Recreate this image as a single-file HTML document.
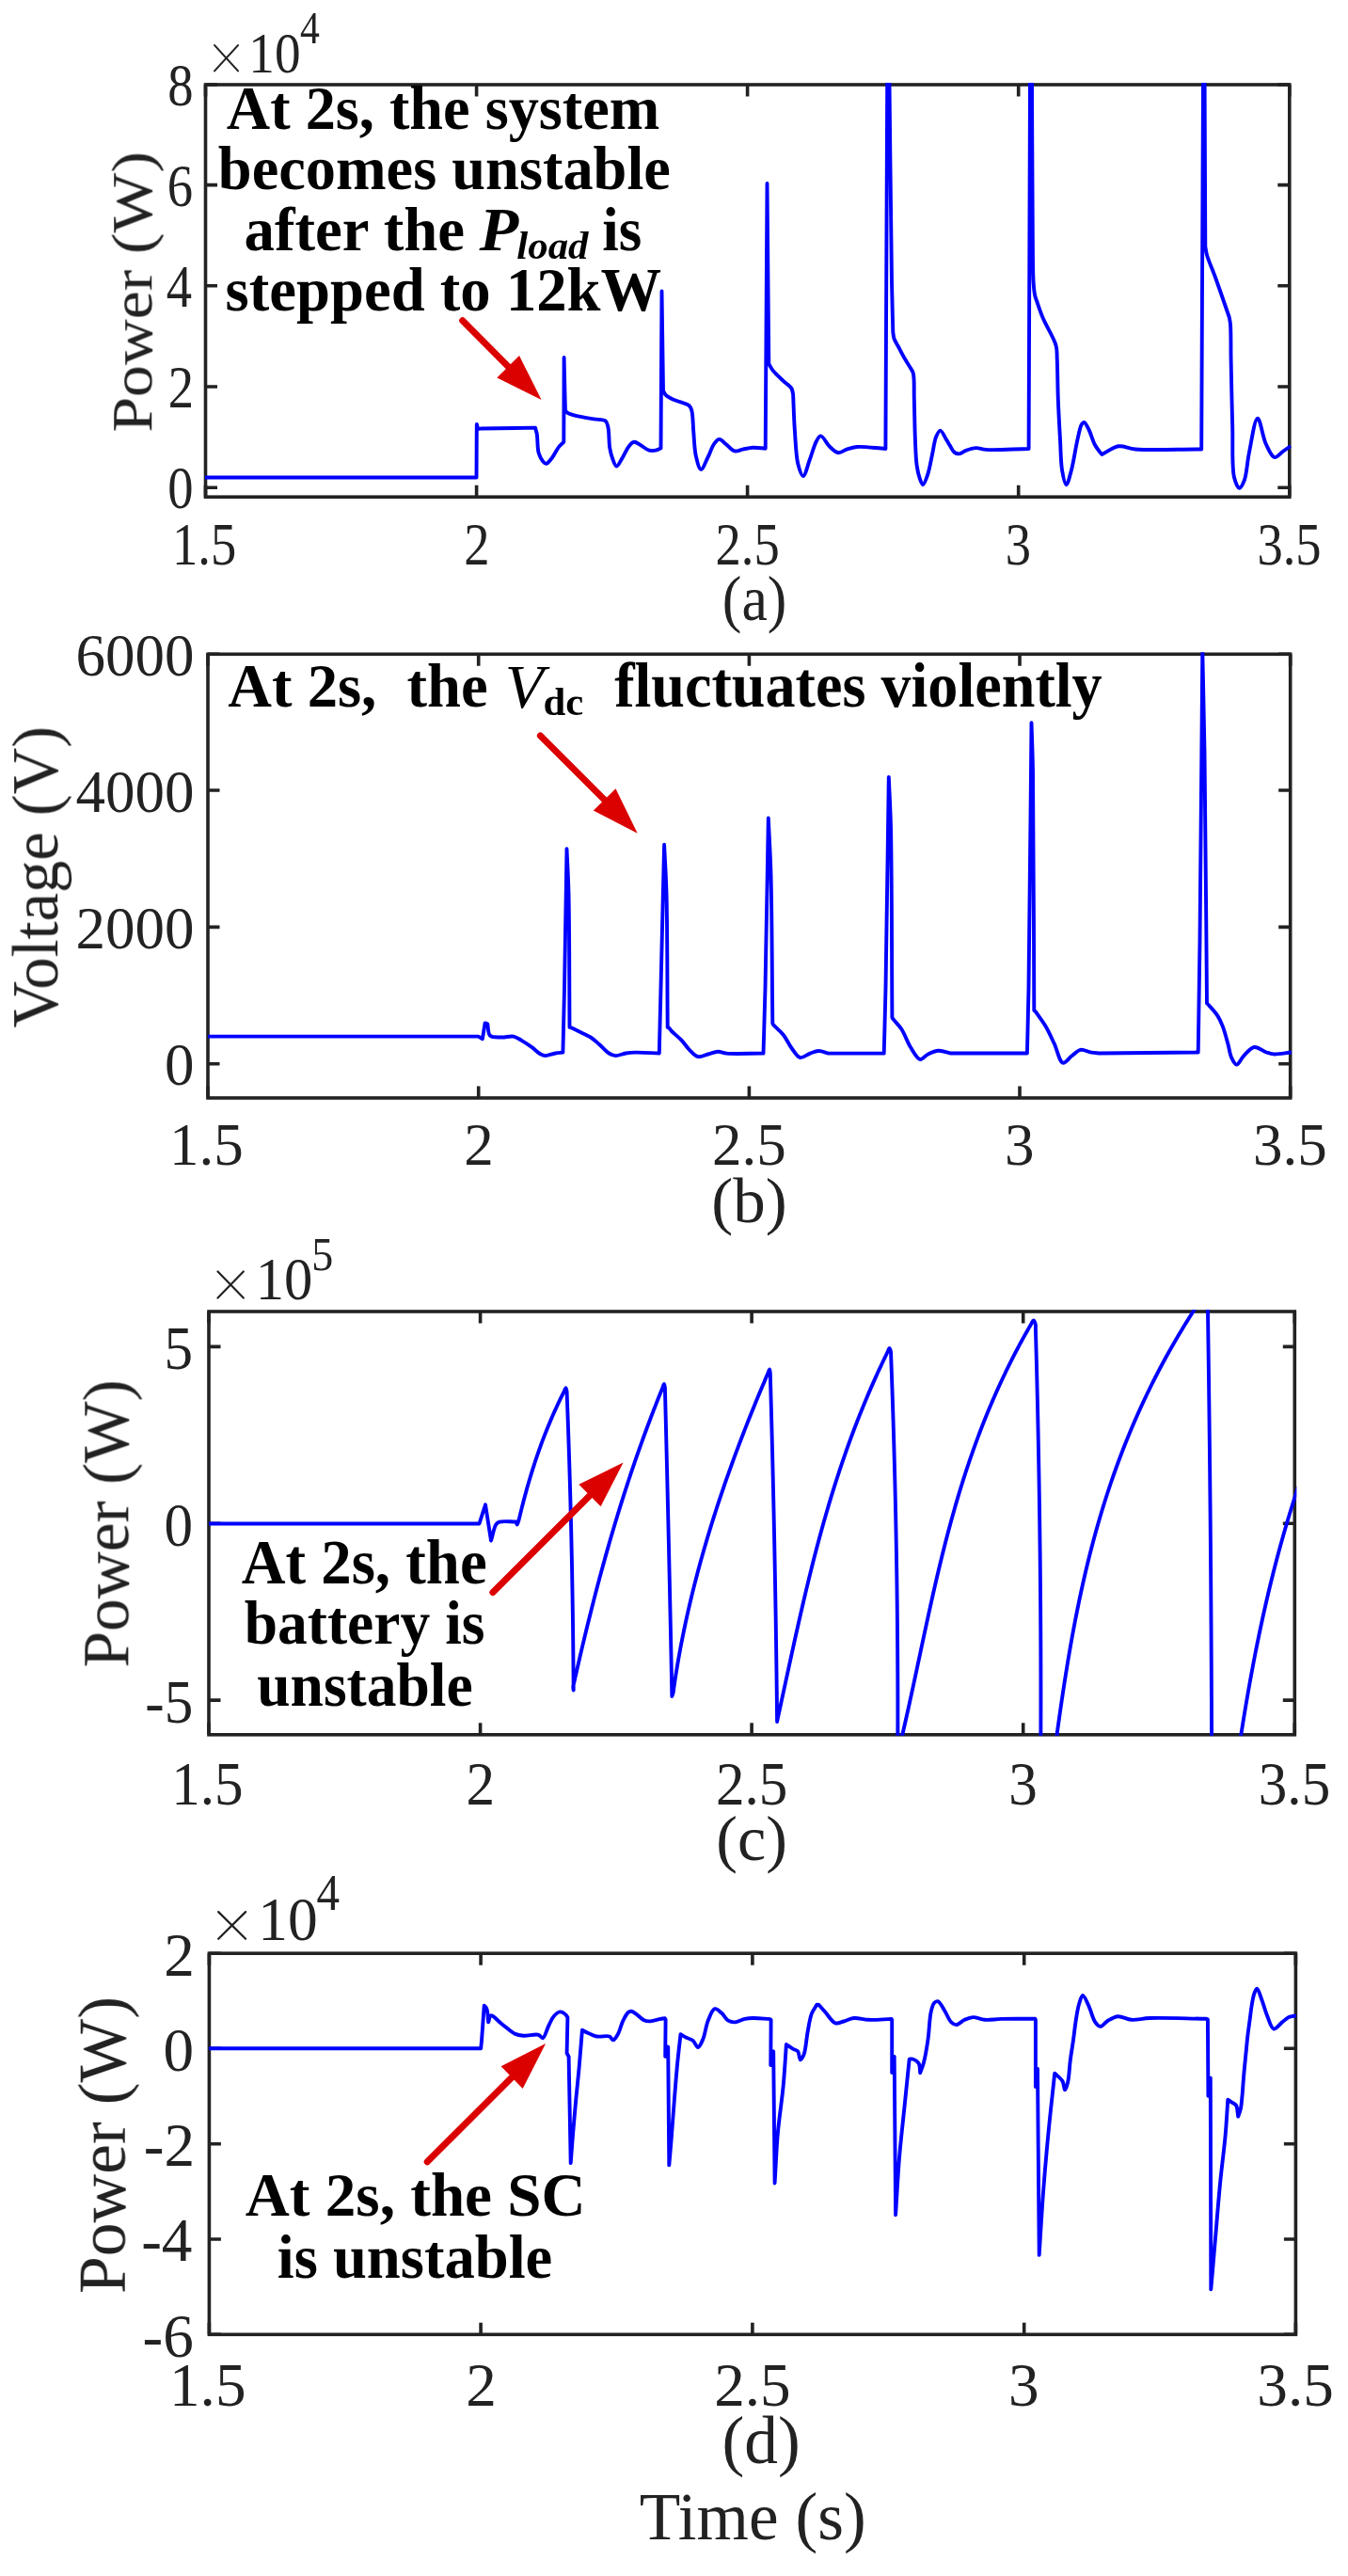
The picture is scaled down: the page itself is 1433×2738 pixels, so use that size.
<!DOCTYPE html><html><head><meta charset="utf-8"><style>html,body{margin:0;padding:0;background:#fff;}svg{display:block}text{font-family:"Liberation Serif",serif;} svg{-webkit-font-smoothing:antialiased;}</style></head><body>
<svg xmlns="http://www.w3.org/2000/svg" width="1433" height="2738" viewBox="0 0 1433 2738">
<rect width="1433" height="2738" fill="#fff"/>
<defs>
<clipPath id="clipa"><rect x="216.5" y="88.0" width="1156.3" height="441.2"/></clipPath>
<clipPath id="clipb"><rect x="219.0" y="693.3" width="1154.7" height="474.7"/></clipPath>
<clipPath id="clipc"><rect x="220.0" y="1392.0" width="1158.3" height="452.8"/></clipPath>
<clipPath id="clipd"><rect x="220.4" y="2074.2" width="1159.0" height="408.1"/></clipPath>
</defs>
<rect x="218.5" y="90.0" width="1152.3" height="438.2" fill="none" stroke="#222222" stroke-width="3.6"/>
<path d="M218.5 528.2V515.7M218.5 90.0V102.5M506.6 528.2V515.7M506.6 90.0V102.5M794.6 528.2V515.7M794.6 90.0V102.5M1082.7 528.2V515.7M1082.7 90.0V102.5M1370.8 528.2V515.7M1370.8 90.0V102.5M218.5 518.3H231.0M1370.8 518.3H1358.3M218.5 411.0H231.0M1370.8 411.0H1358.3M218.5 303.8H231.0M1370.8 303.8H1358.3M218.5 196.6H231.0M1370.8 196.6H1358.3M218.5 90.0H231.0M1370.8 90.0H1358.3" stroke="#222222" stroke-width="3.6" fill="none"/>
<rect x="221.0" y="695.3" width="1150.7" height="471.7" fill="none" stroke="#222222" stroke-width="3.6"/>
<path d="M221.0 1167.0V1154.5M221.0 695.3V707.8M508.7 1167.0V1154.5M508.7 695.3V707.8M796.4 1167.0V1154.5M796.4 695.3V707.8M1084.0 1167.0V1154.5M1084.0 695.3V707.8M1371.7 1167.0V1154.5M1371.7 695.3V707.8M221.0 1130.8H233.5M1371.7 1130.8H1359.2M221.0 985.4H233.5M1371.7 985.4H1359.2M221.0 840.0H233.5M1371.7 840.0H1359.2M221.0 695.3H233.5M1371.7 695.3H1359.2" stroke="#222222" stroke-width="3.6" fill="none"/>
<rect x="222.0" y="1394.0" width="1154.3" height="449.8" fill="none" stroke="#222222" stroke-width="3.6"/>
<path d="M222.0 1843.8V1831.3M222.0 1394.0V1406.5M510.6 1843.8V1831.3M510.6 1394.0V1406.5M799.1 1843.8V1831.3M799.1 1394.0V1406.5M1087.7 1843.8V1831.3M1087.7 1394.0V1406.5M1376.3 1843.8V1831.3M1376.3 1394.0V1406.5M222.0 1807.1H234.5M1376.3 1807.1H1363.8M222.0 1619.3H234.5M1376.3 1619.3H1363.8M222.0 1431.4H234.5M1376.3 1431.4H1363.8" stroke="#222222" stroke-width="3.6" fill="none"/>
<rect x="222.4" y="2076.2" width="1155.0" height="405.1" fill="none" stroke="#222222" stroke-width="3.6"/>
<path d="M222.4 2481.3V2468.8M222.4 2076.2V2088.7M511.1 2481.3V2468.8M511.1 2076.2V2088.7M799.9 2481.3V2468.8M799.9 2076.2V2088.7M1088.7 2481.3V2468.8M1088.7 2076.2V2088.7M1377.4 2481.3V2468.8M1377.4 2076.2V2088.7M222.4 2481.3H234.9M1377.4 2481.3H1364.9M222.4 2380.0H234.9M1377.4 2380.0H1364.9M222.4 2278.7H234.9M1377.4 2278.7H1364.9M222.4 2177.3H234.9M1377.4 2177.3H1364.9M222.4 2076.2H234.9M1377.4 2076.2H1364.9" stroke="#222222" stroke-width="3.6" fill="none"/>
<path d="M218.00 507.50L506.50 507.50L506.80 451.00C507.37 452.50 507.50 454.81 508.50 455.50C509.35 456.09 510.13 455.51 512.00 455.50C519.55 455.44 550.00 454.90 569.00 454.60C569.60 456.97 570.29 458.72 570.80 461.70C571.64 466.59 571.14 476.14 572.60 481.30C573.63 484.96 575.34 488.21 577.00 490.20C578.11 491.54 579.28 492.99 580.60 492.90C582.44 492.77 584.80 489.23 586.80 486.70C589.30 483.55 591.61 478.12 594.00 475.10C595.77 472.87 597.53 471.57 599.30 469.80L599.60 380.00C599.90 393.33 600.23 409.51 600.50 420.00C600.68 426.80 600.83 431.20 601.00 436.80C602.20 437.70 603.05 438.71 604.60 439.50C606.83 440.63 610.00 441.36 613.50 442.20C618.39 443.38 625.89 444.46 631.30 445.40C635.83 446.19 641.33 445.47 643.80 447.50C645.71 449.07 645.81 451.53 646.50 454.60C647.66 459.76 647.23 470.12 648.20 476.00C648.89 480.21 649.65 483.36 650.90 486.70C652.09 489.87 653.66 495.48 655.40 495.60C657.21 495.73 659.54 489.97 661.60 486.70C663.97 482.94 666.22 477.16 668.70 474.20C670.41 472.15 672.01 470.04 674.00 469.80C676.14 469.54 678.71 471.94 681.20 473.30C684.02 474.85 687.10 477.88 690.00 478.70C692.42 479.38 695.02 479.13 697.20 478.70C699.14 478.31 700.73 477.23 702.50 476.50L703.50 309.40L705.00 415.30C705.93 416.80 706.37 418.40 707.80 419.80C709.80 421.76 713.22 423.40 716.70 425.10C721.18 427.28 729.76 428.63 732.70 431.30C734.44 432.89 734.70 434.22 735.40 436.70C736.71 441.38 736.52 450.50 737.20 458.00C737.96 466.40 738.07 477.27 739.80 484.70C741.11 490.31 743.07 498.83 745.20 499.00C747.26 499.16 750.02 490.91 752.30 486.50C754.76 481.75 756.79 474.78 759.40 471.40C761.10 469.20 762.86 466.94 764.80 466.90C766.99 466.85 769.41 470.36 771.90 472.30C774.71 474.49 777.65 478.64 780.80 479.40C783.62 480.08 786.59 478.18 789.70 477.60C793.10 476.97 796.63 475.99 800.40 475.80C804.58 475.59 809.27 476.40 813.70 476.70L815.50 195.00L817.30 386.80C818.77 389.17 819.73 391.41 821.70 393.90C824.35 397.25 828.96 401.33 832.40 404.60C835.46 407.50 839.57 409.83 841.30 412.60C842.58 414.65 842.50 416.80 843.10 418.90C843.70 431.93 843.98 445.28 844.90 458.00C845.78 470.16 846.15 484.90 848.40 493.60C849.79 498.97 851.91 506.13 853.80 506.10C856.04 506.07 858.58 494.40 860.90 488.30C863.32 481.94 865.49 473.03 868.00 468.70C869.45 466.20 870.71 463.40 872.50 463.40C875.14 463.40 878.90 471.90 882.30 475.00C885.17 477.62 888.14 480.86 891.20 481.20C894.08 481.52 896.96 478.61 900.10 477.60C903.47 476.52 906.28 475.39 910.80 475.00C918.34 474.35 931.20 476.33 941.40 477.00L943.20 88.00L945.50 88.00C946.33 158.67 947.14 252.89 948.00 300.00C948.43 323.56 948.87 335.33 949.30 353.00C949.70 355.33 949.69 357.62 950.50 360.00C951.44 362.77 953.33 365.37 955.00 368.50C957.07 372.38 959.70 377.50 962.00 381.50C964.03 385.03 966.42 388.49 968.00 391.30C969.15 393.34 970.12 394.10 970.80 396.70C972.25 402.20 971.49 413.77 971.80 423.90C972.20 436.70 972.34 454.60 972.90 467.40C973.34 477.53 973.51 487.05 974.60 494.60C975.39 500.10 976.45 504.96 977.80 508.70C978.76 511.35 979.90 515.23 981.10 515.20C982.71 515.16 984.98 507.85 986.50 503.30C988.39 497.66 989.45 490.24 990.90 483.70C992.35 477.17 993.21 468.75 995.20 464.10C996.45 461.19 998.00 457.59 999.60 457.60C1001.56 457.61 1004.24 464.45 1006.10 467.40C1007.60 469.77 1008.64 471.73 1010.00 473.90C1011.40 476.13 1012.58 479.19 1014.40 480.60C1015.92 481.78 1017.83 482.53 1019.70 482.40C1021.93 482.24 1024.13 479.80 1026.80 478.80C1029.94 477.62 1033.92 476.24 1037.50 476.10C1041.05 475.96 1043.38 477.55 1048.20 477.90C1058.07 478.63 1078.47 477.30 1093.60 477.00L1095.00 88.00L1097.00 88.00C1097.27 142.00 1097.40 211.43 1097.80 250.00C1098.02 271.43 1097.85 288.48 1098.60 300.00C1099.00 306.12 1099.36 310.17 1100.20 314.00C1100.81 316.77 1101.52 318.16 1102.50 321.00C1104.04 325.46 1106.03 331.71 1108.70 338.10C1112.26 346.63 1120.45 359.43 1122.60 367.40C1123.96 372.46 1123.39 374.79 1123.70 380.40C1124.26 390.64 1124.25 409.40 1124.80 423.90C1125.35 438.40 1126.23 453.95 1127.00 467.40C1127.67 479.05 1127.57 491.25 1129.10 500.00C1130.16 506.09 1131.88 515.15 1133.50 515.20C1135.14 515.25 1137.22 506.09 1138.90 500.00C1141.31 491.25 1143.30 476.37 1145.40 467.40C1146.90 461.01 1147.98 453.91 1149.80 451.10C1150.63 449.82 1151.56 448.75 1152.50 448.90C1154.02 449.14 1155.80 453.40 1157.40 456.50C1159.63 460.82 1161.48 468.33 1163.90 472.80C1165.78 476.28 1167.97 478.60 1170.00 481.50L1171.40 483.00C1177.33 480.10 1183.13 475.15 1189.20 474.30C1195.00 473.49 1199.07 476.79 1207.00 477.50C1222.63 478.89 1253.80 477.50 1277.20 477.50L1279.00 88.00L1280.60 88.00L1281.30 262.00C1281.87 265.00 1281.96 267.31 1283.00 271.00C1284.77 277.31 1289.00 286.62 1292.40 296.00C1296.73 307.96 1301.93 323.33 1306.70 337.00C1307.13 339.67 1307.67 341.33 1308.00 345.00C1308.70 352.90 1308.32 368.08 1308.60 382.60C1308.98 402.60 1309.58 431.85 1310.20 453.90C1310.74 472.99 1309.28 496.19 1312.00 507.30C1313.33 512.73 1315.58 518.67 1317.50 518.80C1319.17 518.91 1321.23 514.52 1322.70 510.80C1325.33 504.13 1325.79 491.06 1328.00 480.60C1330.43 469.11 1333.72 444.81 1336.90 444.70C1339.70 444.60 1342.27 464.57 1345.80 472.00C1348.50 477.68 1351.53 485.44 1354.90 486.10C1357.58 486.62 1360.73 482.03 1363.60 480.00C1366.43 478.00 1369.20 476.00 1372.00 474.00" fill="none" stroke="#0000ff" stroke-width="3.9" stroke-linejoin="round" stroke-linecap="butt" clip-path="url(#clipa)"/>
<path d="M221.00 1101.60L508.50 1101.60L512.90 1104.30L515.60 1087.40L518.30 1088.30C519.20 1092.47 518.45 1098.44 521.00 1100.80C523.52 1103.13 529.25 1102.37 533.40 1102.50C537.55 1102.63 542.18 1100.85 545.90 1101.60C549.22 1102.27 551.75 1104.33 554.80 1106.10C558.26 1108.11 562.15 1110.76 565.50 1113.20C568.66 1115.50 571.70 1118.82 574.40 1120.30C576.30 1121.34 577.61 1122.01 579.70 1122.10C582.63 1122.23 587.07 1120.09 590.40 1119.50C593.24 1119.00 595.73 1118.90 598.40 1118.60C598.93 1095.73 599.45 1077.20 600.00 1050.00C600.80 1010.09 601.67 951.53 602.50 902.30C603.17 918.20 604.01 929.87 604.50 950.00C605.35 984.71 605.17 1044.60 605.50 1091.90L606.40 1091.90C609.37 1093.37 612.08 1094.71 615.30 1096.30C619.11 1098.19 624.10 1100.13 627.80 1102.50C631.15 1104.65 633.65 1107.06 636.70 1109.70C640.13 1112.66 643.90 1117.43 647.30 1119.50C649.77 1121.00 651.84 1121.96 654.50 1122.10C657.69 1122.27 661.62 1120.08 665.20 1119.50C668.72 1118.93 671.52 1118.70 675.80 1118.60C682.37 1118.44 692.47 1119.20 700.80 1119.50C701.37 1096.33 701.83 1077.65 702.50 1050.00C703.48 1009.08 704.90 948.53 706.10 897.80C706.90 915.20 707.91 928.33 708.50 950.00C709.47 985.71 709.30 1044.60 709.70 1091.90C710.27 1092.17 710.85 1092.25 711.40 1092.70C712.17 1093.32 712.52 1094.41 713.60 1095.60C715.75 1097.97 720.92 1101.95 724.20 1105.40C727.42 1108.79 729.97 1113.03 733.10 1116.10C735.93 1118.87 738.70 1122.49 742.00 1123.20C745.25 1123.90 749.13 1121.40 752.70 1120.50C756.27 1119.60 759.99 1117.88 763.40 1117.80C766.49 1117.73 768.25 1119.19 772.30 1119.60C780.71 1120.44 798.43 1119.60 811.50 1119.60C812.17 1096.40 812.83 1078.63 813.50 1050.00C814.58 1003.90 815.70 929.67 816.80 869.50C817.70 889.67 818.80 905.09 819.50 930.00C820.63 970.19 820.70 1035.07 821.30 1087.60L822.20 1089.40C825.73 1092.93 829.62 1096.00 832.80 1100.00C836.17 1104.24 838.53 1110.11 841.70 1114.30C844.51 1118.02 847.20 1123.35 850.60 1124.10C853.79 1124.80 857.86 1120.82 861.30 1119.60C864.37 1118.51 867.09 1117.07 870.20 1117.00C873.59 1116.92 877.33 1118.73 880.90 1119.60L939.70 1119.60C940.30 1096.40 940.90 1079.80 941.50 1050.00C942.58 996.55 943.70 900.67 944.80 826.00C945.53 844.00 946.43 856.28 947.00 880.00C948.09 925.78 947.93 1014.20 948.40 1081.30L949.30 1083.10C952.40 1086.83 955.73 1089.90 958.60 1094.30C962.03 1099.57 964.40 1107.49 967.90 1113.00C971.02 1117.91 974.68 1125.44 978.20 1126.00C980.95 1126.43 983.49 1121.92 986.60 1120.40C989.97 1118.76 993.90 1116.91 997.80 1116.70C1001.94 1116.48 1006.47 1118.57 1010.80 1119.50L1091.90 1119.50C1092.43 1096.33 1092.98 1080.96 1093.50 1050.00C1094.55 987.68 1095.50 862.20 1096.50 768.30C1097.00 785.53 1097.59 796.25 1098.00 820.00C1098.90 872.61 1098.87 989.20 1099.30 1073.80L1101.20 1075.70C1104.60 1080.67 1108.25 1085.24 1111.40 1090.60C1114.78 1096.35 1117.66 1102.82 1120.70 1109.20C1123.86 1115.84 1126.21 1128.78 1130.00 1129.70C1132.77 1130.37 1136.24 1124.64 1139.40 1122.30C1142.48 1120.02 1145.30 1116.43 1148.70 1115.80C1152.13 1115.17 1156.31 1117.98 1159.90 1118.60C1163.15 1119.16 1166.17 1119.20 1169.30 1119.50L1273.70 1118.50C1274.30 1079.00 1274.91 1048.73 1275.50 1000.00C1276.45 921.57 1277.37 795.33 1278.30 693.00C1279.03 728.67 1279.85 756.34 1280.50 800.00C1281.53 868.89 1282.17 977.60 1283.00 1066.40C1283.60 1067.00 1283.99 1067.32 1284.80 1068.20C1286.74 1070.31 1291.66 1075.51 1294.20 1079.40C1296.54 1083.00 1298.02 1086.32 1299.70 1090.60C1301.80 1095.94 1303.67 1103.33 1305.30 1109.20C1306.75 1114.43 1307.22 1120.12 1309.10 1124.10C1310.56 1127.20 1312.59 1131.55 1314.60 1131.60C1316.88 1131.65 1319.18 1125.26 1322.10 1122.30C1325.32 1119.03 1329.23 1113.60 1333.30 1113.00C1337.31 1112.41 1342.52 1117.23 1346.30 1118.50C1349.10 1119.44 1350.70 1120.17 1353.80 1120.40C1358.70 1120.77 1366.60 1119.13 1373.00 1118.50" fill="none" stroke="#0000ff" stroke-width="3.9" stroke-linejoin="round" stroke-linecap="butt" clip-path="url(#clipb)"/>
<path d="M222.00 1619.50L509.50 1619.50L516.00 1599.30L522.00 1637.50C523.77 1631.80 525.12 1623.50 527.30 1620.40C528.40 1618.85 529.10 1618.31 530.90 1617.70C534.49 1616.48 542.83 1617.57 548.80 1617.50C549.13 1618.50 549.40 1620.50 549.80 1620.50C550.43 1620.50 551.60 1615.13 552.20 1613.00C552.63 1611.45 552.84 1610.30 553.17 1608.95C553.50 1607.60 553.83 1606.24 554.17 1604.89C554.51 1603.54 554.85 1602.19 555.19 1600.84C555.53 1599.49 555.88 1598.14 556.23 1596.79C556.58 1595.44 556.93 1594.09 557.29 1592.74C557.65 1591.38 558.01 1590.03 558.38 1588.68C558.74 1587.33 559.11 1585.98 559.49 1584.63C559.86 1583.28 560.24 1581.93 560.62 1580.58C561.01 1579.22 561.39 1577.87 561.78 1576.52C562.18 1575.17 562.57 1573.82 562.97 1572.47C563.37 1571.12 563.78 1569.77 564.19 1568.42C564.60 1567.07 565.01 1565.72 565.43 1564.36C565.85 1563.01 566.28 1561.66 566.70 1560.31C567.13 1558.96 567.57 1557.61 568.01 1556.26C568.45 1554.91 568.89 1553.56 569.34 1552.21C569.79 1550.85 570.24 1549.50 570.70 1548.15C571.17 1546.80 571.63 1545.45 572.10 1544.10C572.57 1542.75 573.05 1541.40 573.53 1540.05C574.01 1538.70 574.50 1537.34 574.99 1535.99C575.49 1534.64 575.99 1533.29 576.49 1531.94C577.00 1530.59 577.51 1529.24 578.03 1527.89C578.54 1526.54 579.07 1525.19 579.60 1523.84C580.13 1522.48 580.66 1521.13 581.20 1519.78C581.75 1518.43 582.29 1517.08 582.85 1515.73C583.40 1514.38 583.96 1513.03 584.53 1511.68C585.10 1510.32 585.67 1508.97 586.25 1507.62C586.84 1506.27 587.42 1504.92 588.02 1503.57C588.61 1502.22 589.21 1500.87 589.82 1499.52C590.43 1498.17 591.04 1496.81 591.67 1495.46C592.29 1494.11 592.92 1492.76 593.55 1491.41C594.19 1490.06 594.84 1488.71 595.49 1487.36C596.14 1486.01 596.80 1484.66 597.46 1483.31C598.13 1481.95 598.80 1480.60 599.48 1479.25C600.16 1477.90 601.03 1475.14 601.55 1475.20C602.04 1475.26 602.37 1477.87 602.57 1479.22C602.76 1480.55 602.67 1481.90 602.72 1483.24C602.77 1484.57 602.83 1485.91 602.88 1487.25C602.93 1488.59 602.98 1489.93 603.03 1491.27C603.08 1492.61 603.13 1493.95 603.18 1495.29C603.23 1496.63 603.28 1497.97 603.33 1499.31C603.38 1500.64 603.43 1501.98 603.48 1503.32C603.53 1504.66 603.58 1506.00 603.62 1507.34C603.67 1508.68 603.72 1510.02 603.77 1511.36C603.82 1512.70 603.86 1514.04 603.91 1515.38C603.96 1516.71 604.01 1518.05 604.05 1519.39C604.10 1520.73 604.14 1522.07 604.19 1523.41C604.24 1524.75 604.28 1526.09 604.33 1527.43C604.37 1528.77 604.42 1530.11 604.46 1531.44C604.51 1532.78 604.55 1534.12 604.60 1535.46C604.64 1536.80 604.69 1538.14 604.73 1539.48C604.77 1540.82 604.82 1542.16 604.86 1543.50C604.90 1544.84 604.95 1546.18 604.99 1547.52C605.03 1548.85 605.08 1550.19 605.12 1551.53C605.16 1552.87 605.20 1554.21 605.24 1555.55C605.28 1556.89 605.33 1558.23 605.37 1559.57C605.41 1560.91 605.45 1562.25 605.49 1563.59C605.53 1564.92 605.57 1566.26 605.61 1567.60C605.65 1568.94 605.69 1570.28 605.73 1571.62C605.77 1572.96 605.81 1574.30 605.85 1575.64C605.88 1576.98 605.92 1578.32 605.96 1579.65C606.00 1580.99 606.04 1582.33 606.07 1583.67C606.11 1585.01 606.15 1586.35 606.19 1587.69C606.22 1589.03 606.26 1590.37 606.30 1591.71C606.33 1593.05 606.37 1594.39 606.41 1595.72C606.44 1597.06 606.48 1598.40 606.51 1599.74C606.55 1601.08 606.58 1602.42 606.62 1603.76C606.65 1605.10 606.69 1606.44 606.72 1607.78C606.76 1609.12 606.79 1610.46 606.82 1611.80C606.86 1613.13 606.89 1614.47 606.92 1615.81C606.96 1617.15 606.99 1618.49 607.02 1619.83C607.05 1621.17 607.09 1622.51 607.12 1623.85C607.15 1625.19 607.18 1626.53 607.21 1627.87C607.24 1629.20 607.28 1630.54 607.31 1631.88C607.34 1633.22 607.37 1634.56 607.40 1635.90C607.43 1637.24 607.46 1638.58 607.49 1639.92C607.52 1641.26 607.55 1642.60 607.58 1643.93C607.61 1645.27 607.63 1646.61 607.66 1647.95C607.69 1649.29 607.72 1650.63 607.75 1651.97C607.78 1653.31 607.80 1654.65 607.83 1655.99C607.86 1657.33 607.89 1658.67 607.91 1660.00C607.94 1661.34 607.97 1662.68 607.99 1664.02C608.02 1665.36 608.04 1666.70 608.07 1668.04C608.10 1669.38 608.12 1670.72 608.15 1672.06C608.17 1673.40 608.20 1674.74 608.22 1676.08C608.25 1677.41 608.27 1678.75 608.29 1680.09C608.32 1681.43 608.34 1682.77 608.37 1684.11C608.39 1685.45 608.41 1686.79 608.44 1688.13C608.46 1689.47 608.48 1690.81 608.50 1692.14C608.53 1693.48 608.55 1694.82 608.57 1696.16C608.59 1697.50 608.61 1698.84 608.63 1700.18C608.66 1701.52 608.68 1702.86 608.70 1704.20C608.72 1705.54 608.74 1706.88 608.76 1708.21C608.78 1709.55 608.80 1710.89 608.82 1712.23C608.84 1713.57 608.86 1714.91 608.88 1716.25C608.89 1717.59 608.91 1718.93 608.93 1720.27C608.95 1721.61 608.97 1722.95 608.99 1724.28C609.00 1725.62 609.02 1726.96 609.04 1728.30C609.06 1729.64 609.07 1730.98 609.09 1732.32C609.11 1733.66 609.12 1735.00 609.14 1736.34C609.15 1737.68 609.17 1739.02 609.19 1740.36C609.20 1741.69 609.22 1743.03 609.23 1744.37C609.25 1745.71 609.26 1747.05 609.28 1748.39C609.29 1749.73 609.30 1751.07 609.32 1752.41C609.33 1753.75 609.35 1755.09 609.36 1756.42C609.37 1757.76 609.39 1759.10 609.40 1760.44C609.41 1761.78 609.42 1763.12 609.44 1764.46C609.45 1765.80 609.46 1767.14 609.47 1768.48C609.48 1769.82 609.49 1771.16 609.50 1772.49C609.52 1773.83 609.53 1775.17 609.54 1776.51C609.55 1777.85 609.56 1779.19 609.57 1780.53C609.58 1781.87 609.59 1783.21 609.60 1784.55C609.61 1785.89 609.61 1787.23 609.62 1788.57C609.63 1789.90 609.64 1791.24 609.65 1792.58C609.66 1793.92 609.66 1795.26 609.67 1796.60C609.55 1795.26 609.22 1793.91 609.31 1792.58C609.39 1791.23 609.91 1789.90 610.21 1788.56C610.51 1787.22 610.81 1785.88 611.11 1784.54C611.42 1783.20 611.72 1781.86 612.02 1780.52C612.33 1779.18 612.63 1777.84 612.94 1776.50C613.25 1775.16 613.55 1773.82 613.86 1772.48C614.17 1771.14 614.48 1769.80 614.79 1768.46C615.10 1767.12 615.41 1765.78 615.72 1764.44C616.03 1763.10 616.34 1761.76 616.65 1760.42C616.97 1759.08 617.28 1757.74 617.59 1756.40C617.91 1755.06 618.22 1753.72 618.54 1752.38C618.86 1751.04 619.17 1749.70 619.49 1748.36C619.81 1747.02 620.13 1745.68 620.45 1744.34C620.77 1743.00 621.09 1741.66 621.42 1740.32C621.74 1738.98 622.06 1737.64 622.39 1736.30C622.71 1734.96 623.04 1733.62 623.36 1732.28C623.69 1730.94 624.02 1729.60 624.34 1728.26C624.67 1726.92 625.00 1725.58 625.33 1724.24C625.66 1722.90 626.00 1721.56 626.33 1720.22C626.66 1718.88 626.99 1717.54 627.33 1716.20C627.67 1714.86 628.00 1713.52 628.34 1712.19C628.68 1710.85 629.01 1709.51 629.35 1708.17C629.69 1706.83 630.03 1705.49 630.38 1704.15C630.72 1702.81 631.06 1701.47 631.41 1700.13C631.75 1698.79 632.10 1697.45 632.44 1696.11C632.79 1694.77 633.14 1693.43 633.49 1692.09C633.84 1690.75 634.19 1689.41 634.54 1688.07C634.89 1686.73 635.25 1685.39 635.60 1684.05C635.95 1682.71 636.31 1681.37 636.67 1680.03C637.02 1678.69 637.38 1677.35 637.74 1676.01C638.10 1674.67 638.46 1673.33 638.83 1671.99C639.19 1670.65 639.55 1669.31 639.92 1667.97C640.28 1666.63 640.65 1665.29 641.02 1663.95C641.39 1662.61 641.75 1661.27 642.13 1659.93C642.50 1658.59 642.87 1657.25 643.24 1655.91C643.62 1654.57 643.99 1653.23 644.37 1651.89C644.74 1650.55 645.12 1649.21 645.50 1647.87C645.88 1646.53 646.26 1645.19 646.64 1643.85C647.03 1642.51 647.41 1641.17 647.80 1639.83C648.18 1638.49 648.57 1637.15 648.96 1635.81C649.35 1634.47 649.74 1633.13 650.13 1631.79C650.52 1630.45 650.91 1629.11 651.31 1627.77C651.70 1626.43 652.10 1625.09 652.50 1623.75C652.90 1622.41 653.30 1621.07 653.70 1619.73C654.10 1618.39 654.50 1617.05 654.91 1615.71C655.31 1614.37 655.72 1613.03 656.12 1611.69C656.53 1610.35 656.94 1609.01 657.35 1607.67C657.76 1606.33 658.18 1604.99 658.59 1603.65C659.01 1602.31 659.42 1600.97 659.84 1599.63C660.26 1598.29 660.68 1596.95 661.10 1595.61C661.52 1594.27 661.95 1592.93 662.37 1591.59C662.80 1590.25 663.22 1588.91 663.65 1587.57C664.08 1586.23 664.51 1584.89 664.94 1583.55C665.38 1582.21 665.81 1580.87 666.25 1579.53C666.68 1578.19 667.12 1576.85 667.56 1575.51C668.00 1574.17 668.44 1572.83 668.88 1571.49C669.33 1570.15 669.77 1568.81 670.22 1567.47C670.67 1566.13 671.12 1564.79 671.57 1563.45C672.02 1562.11 672.47 1560.77 672.93 1559.43C673.38 1558.09 673.84 1556.75 674.30 1555.41C674.76 1554.07 675.22 1552.73 675.68 1551.40C676.14 1550.05 676.61 1548.71 677.07 1547.38C677.54 1546.04 678.01 1544.70 678.48 1543.36C678.95 1542.02 679.42 1540.68 679.90 1539.34C680.37 1538.00 680.85 1536.66 681.33 1535.32C681.81 1533.98 682.29 1532.64 682.77 1531.30C683.26 1529.96 683.74 1528.62 684.23 1527.28C684.72 1525.94 685.21 1524.60 685.70 1523.26C686.19 1521.92 686.68 1520.58 687.18 1519.24C687.68 1517.90 688.17 1516.56 688.67 1515.22C689.17 1513.88 689.68 1512.54 690.18 1511.20C690.69 1509.86 691.19 1508.52 691.70 1507.18C692.21 1505.84 692.72 1504.50 693.24 1503.16C693.75 1501.82 694.27 1500.48 694.78 1499.14C695.30 1497.80 695.82 1496.46 696.34 1495.12C696.87 1493.78 697.39 1492.44 697.92 1491.10C698.45 1489.76 698.97 1488.42 699.51 1487.08C700.04 1485.74 700.57 1484.40 701.11 1483.06C701.65 1481.72 702.18 1480.38 702.73 1479.04C703.27 1477.70 703.81 1476.36 704.36 1475.02C704.90 1473.68 705.58 1470.96 706.00 1471.00C706.41 1471.04 706.72 1473.66 706.89 1475.00C707.05 1476.33 706.96 1477.67 706.99 1479.00C707.02 1480.33 707.06 1481.67 707.09 1483.00C707.13 1484.33 707.16 1485.67 707.20 1487.00C707.23 1488.33 707.26 1489.67 707.30 1491.00C707.33 1492.33 707.37 1493.67 707.40 1495.00C707.43 1496.33 707.47 1497.67 707.50 1499.00C707.53 1500.33 707.57 1501.67 707.60 1503.00C707.64 1504.33 707.67 1505.67 707.70 1507.00C707.74 1508.33 707.77 1509.67 707.80 1511.00C707.84 1512.33 707.87 1513.67 707.90 1515.00C707.94 1516.33 707.97 1517.67 708.00 1519.00C708.04 1520.33 708.07 1521.67 708.10 1523.00C708.14 1524.33 708.17 1525.67 708.20 1527.00C708.24 1528.33 708.27 1529.67 708.30 1531.00C708.33 1532.33 708.37 1533.67 708.40 1535.00C708.43 1536.33 708.47 1537.67 708.50 1539.00C708.53 1540.33 708.56 1541.67 708.60 1543.00C708.63 1544.33 708.66 1545.67 708.70 1547.00C708.73 1548.33 708.76 1549.67 708.79 1551.00C708.83 1552.33 708.86 1553.67 708.89 1555.00C708.92 1556.33 708.96 1557.67 708.99 1559.00C709.02 1560.33 709.05 1561.67 709.08 1563.00C709.12 1564.33 709.15 1565.67 709.18 1567.00C709.21 1568.33 709.24 1569.67 709.28 1571.00C709.31 1572.33 709.34 1573.67 709.37 1575.00C709.40 1576.33 709.44 1577.67 709.47 1579.00C709.50 1580.33 709.53 1581.67 709.56 1583.00C709.59 1584.33 709.63 1585.67 709.66 1587.00C709.69 1588.33 709.72 1589.67 709.75 1591.00C709.78 1592.33 709.82 1593.67 709.85 1595.00C709.88 1596.33 709.91 1597.67 709.94 1599.00C709.97 1600.33 710.00 1601.67 710.03 1603.00C710.07 1604.33 710.10 1605.67 710.13 1607.00C710.16 1608.33 710.19 1609.67 710.22 1611.00C710.25 1612.33 710.28 1613.67 710.31 1615.00C710.35 1616.33 710.38 1617.67 710.41 1619.00C710.44 1620.33 710.47 1621.67 710.50 1623.00C710.53 1624.33 710.56 1625.67 710.59 1627.00C710.62 1628.33 710.65 1629.67 710.68 1631.00C710.71 1632.33 710.74 1633.67 710.77 1635.00C710.80 1636.33 710.83 1637.67 710.86 1639.00C710.90 1640.33 710.93 1641.67 710.96 1643.00C710.99 1644.33 711.02 1645.67 711.05 1647.00C711.08 1648.33 711.11 1649.67 711.14 1651.00C711.17 1652.33 711.20 1653.67 711.23 1655.00C711.26 1656.33 711.29 1657.67 711.32 1659.00C711.35 1660.33 711.38 1661.67 711.40 1663.00C711.43 1664.33 711.46 1665.67 711.49 1667.00C711.52 1668.33 711.55 1669.67 711.58 1671.00C711.61 1672.33 711.64 1673.67 711.67 1675.00C711.70 1676.33 711.73 1677.67 711.76 1679.00C711.79 1680.33 711.82 1681.67 711.85 1683.00C711.88 1684.33 711.90 1685.67 711.93 1687.00C711.96 1688.33 711.99 1689.67 712.02 1691.00C712.05 1692.33 712.08 1693.67 712.11 1695.00C712.14 1696.33 712.17 1697.67 712.19 1699.00C712.22 1700.33 712.25 1701.67 712.28 1703.00C712.31 1704.33 712.34 1705.67 712.37 1707.00C712.40 1708.33 712.42 1709.67 712.45 1711.00C712.48 1712.33 712.51 1713.67 712.54 1715.00C712.57 1716.33 712.59 1717.67 712.62 1719.00C712.65 1720.33 712.68 1721.67 712.71 1723.00C712.74 1724.33 712.76 1725.67 712.79 1727.00C712.82 1728.33 712.85 1729.67 712.88 1731.00C712.90 1732.33 712.93 1733.67 712.96 1735.00C712.99 1736.33 713.02 1737.67 713.04 1739.00C713.07 1740.33 713.10 1741.67 713.13 1743.00C713.15 1744.33 713.18 1745.67 713.21 1747.00C713.24 1748.33 713.26 1749.67 713.29 1751.00C713.32 1752.33 713.35 1753.67 713.37 1755.00C713.40 1756.33 713.43 1757.67 713.46 1759.00C713.48 1760.33 713.51 1761.67 713.54 1763.00C713.57 1764.33 713.59 1765.67 713.62 1767.00C713.65 1768.33 713.67 1769.67 713.70 1771.00C713.73 1772.33 713.75 1773.67 713.78 1775.00C713.81 1776.33 713.84 1777.67 713.86 1779.00C713.89 1780.33 713.92 1781.67 713.94 1783.00C713.97 1784.33 714.00 1785.67 714.02 1787.00C714.05 1788.33 714.08 1789.67 714.10 1791.00C714.13 1792.33 714.15 1793.67 714.18 1795.00C714.21 1796.33 714.23 1797.67 714.26 1799.00C714.29 1800.33 714.31 1801.67 714.34 1803.00C714.77 1801.65 715.33 1800.32 715.64 1798.96C715.95 1797.63 716.02 1796.27 716.21 1794.92C716.40 1793.57 716.60 1792.22 716.80 1790.88C716.99 1789.53 717.19 1788.18 717.40 1786.84C717.60 1785.49 717.81 1784.14 718.02 1782.80C718.23 1781.45 718.44 1780.10 718.66 1778.76C718.87 1777.41 719.09 1776.06 719.31 1774.72C719.53 1773.37 719.75 1772.02 719.98 1770.67C720.21 1769.33 720.44 1767.98 720.67 1766.63C720.90 1765.29 721.14 1763.94 721.38 1762.59C721.61 1761.25 721.86 1759.90 722.10 1758.55C722.34 1757.21 722.59 1755.86 722.84 1754.51C723.09 1753.16 723.34 1751.82 723.59 1750.47C723.85 1749.12 724.11 1747.78 724.37 1746.43C724.63 1745.08 724.89 1743.74 725.16 1742.39C725.42 1741.04 725.69 1739.70 725.96 1738.35C726.23 1737.00 726.51 1735.65 726.78 1734.31C727.06 1732.96 727.34 1731.61 727.62 1730.27C727.90 1728.92 728.19 1727.57 728.48 1726.23C728.76 1724.88 729.05 1723.53 729.35 1722.19C729.64 1720.84 729.94 1719.49 730.23 1718.15C730.53 1716.80 730.83 1715.45 731.14 1714.10C731.44 1712.76 731.75 1711.41 732.05 1710.06C732.36 1708.72 732.67 1707.37 732.99 1706.02C733.30 1704.68 733.62 1703.33 733.94 1701.98C734.26 1700.64 734.58 1699.29 734.90 1697.94C735.23 1696.59 735.56 1695.25 735.88 1693.90C736.21 1692.55 736.55 1691.21 736.88 1689.86C737.22 1688.51 737.55 1687.17 737.89 1685.82C738.23 1684.47 738.58 1683.13 738.92 1681.78C739.26 1680.43 739.61 1679.08 739.96 1677.74C740.31 1676.39 740.66 1675.04 741.02 1673.70C741.37 1672.35 741.73 1671.00 742.09 1669.66C742.45 1668.31 742.81 1666.96 743.18 1665.62C743.54 1664.27 743.91 1662.92 744.28 1661.58C744.65 1660.23 745.02 1658.88 745.40 1657.53C745.77 1656.19 746.15 1654.84 746.53 1653.49C746.91 1652.15 747.29 1650.80 747.67 1649.45C748.06 1648.11 748.45 1646.76 748.83 1645.41C749.22 1644.07 749.61 1642.72 750.01 1641.37C750.40 1640.02 750.80 1638.68 751.20 1637.33C751.60 1635.98 752.00 1634.64 752.40 1633.29C752.80 1631.94 753.21 1630.60 753.62 1629.25C754.03 1627.90 754.44 1626.56 754.85 1625.21C755.26 1623.86 755.68 1622.52 756.10 1621.17C756.51 1619.82 756.93 1618.47 757.35 1617.13C757.78 1615.78 758.20 1614.43 758.63 1613.09C759.05 1611.74 759.48 1610.39 759.91 1609.05C760.35 1607.70 760.78 1606.35 761.21 1605.01C761.65 1603.66 762.09 1602.31 762.53 1600.97C762.97 1599.62 763.41 1598.27 763.86 1596.92C764.30 1595.58 764.75 1594.23 765.20 1592.88C765.65 1591.54 766.10 1590.19 766.55 1588.84C767.00 1587.50 767.46 1586.15 767.92 1584.80C768.38 1583.46 768.84 1582.11 769.30 1580.76C769.76 1579.41 770.23 1578.07 770.69 1576.72C771.16 1575.37 771.63 1574.03 772.10 1572.68C772.57 1571.33 773.04 1569.99 773.52 1568.64C773.99 1567.29 774.47 1565.95 774.95 1564.60C775.43 1563.25 775.91 1561.90 776.39 1560.56C776.88 1559.21 777.36 1557.86 777.85 1556.52C778.34 1555.17 778.83 1553.82 779.32 1552.48C779.81 1551.13 780.31 1549.78 780.80 1548.44C781.30 1547.09 781.80 1545.74 782.30 1544.40C782.80 1543.05 783.30 1541.70 783.81 1540.35C784.31 1539.01 784.82 1537.66 785.32 1536.31C785.83 1534.97 786.34 1533.62 786.86 1532.27C787.37 1530.93 787.88 1529.58 788.40 1528.23C788.92 1526.89 789.43 1525.54 789.95 1524.19C790.47 1522.84 791.00 1521.50 791.52 1520.15C792.05 1518.80 792.57 1517.46 793.10 1516.11C793.63 1514.76 794.16 1513.42 794.69 1512.07C795.22 1510.72 795.76 1509.38 796.29 1508.03C796.83 1506.68 797.37 1505.33 797.91 1503.99C798.44 1502.64 798.99 1501.29 799.53 1499.95C800.07 1498.60 800.62 1497.25 801.17 1495.91C801.71 1494.56 802.26 1493.21 802.81 1491.87C803.36 1490.52 803.92 1489.17 804.47 1487.83C805.03 1486.48 805.58 1485.13 806.14 1483.78C806.70 1482.44 807.26 1481.09 807.82 1479.74C808.38 1478.40 808.95 1477.05 809.51 1475.70C810.08 1474.36 810.65 1473.01 811.22 1471.66C811.79 1470.32 812.36 1468.97 812.93 1467.62C813.50 1466.27 814.08 1464.93 814.65 1463.58C815.23 1462.23 815.81 1460.89 816.39 1459.54C816.97 1458.19 817.73 1455.45 818.13 1455.50C818.52 1455.55 818.66 1458.18 818.78 1459.53C818.91 1460.87 818.86 1462.21 818.90 1463.55C818.94 1464.90 818.98 1466.24 819.02 1467.58C819.06 1468.92 819.09 1470.27 819.13 1471.61C819.17 1472.95 819.21 1474.29 819.25 1475.63C819.28 1476.98 819.32 1478.32 819.36 1479.66C819.40 1481.00 819.44 1482.35 819.47 1483.69C819.51 1485.03 819.55 1486.37 819.59 1487.72C819.62 1489.06 819.66 1490.40 819.70 1491.74C819.73 1493.08 819.77 1494.43 819.81 1495.77C819.84 1497.11 819.88 1498.45 819.92 1499.80C819.95 1501.14 819.99 1502.48 820.03 1503.82C820.06 1505.16 820.10 1506.51 820.13 1507.85C820.17 1509.19 820.21 1510.53 820.24 1511.88C820.28 1513.22 820.31 1514.56 820.35 1515.90C820.38 1517.25 820.42 1518.59 820.45 1519.93C820.49 1521.27 820.52 1522.61 820.56 1523.96C820.59 1525.30 820.63 1526.64 820.66 1527.98C820.70 1529.33 820.73 1530.67 820.77 1532.01C820.80 1533.35 820.83 1534.70 820.87 1536.04C820.90 1537.38 820.94 1538.72 820.97 1540.06C821.00 1541.41 821.04 1542.75 821.07 1544.09C821.10 1545.43 821.14 1546.78 821.17 1548.12C821.20 1549.46 821.24 1550.80 821.27 1552.15C821.30 1553.49 821.33 1554.83 821.37 1556.17C821.40 1557.51 821.43 1558.86 821.46 1560.20C821.50 1561.54 821.53 1562.88 821.56 1564.23C821.59 1565.57 821.62 1566.91 821.66 1568.25C821.69 1569.59 821.72 1570.94 821.75 1572.28C821.78 1573.62 821.81 1574.96 821.84 1576.31C821.88 1577.65 821.91 1578.99 821.94 1580.33C821.97 1581.68 822.00 1583.02 822.03 1584.36C822.06 1585.70 822.09 1587.04 822.12 1588.39C822.15 1589.73 822.18 1591.07 822.21 1592.41C822.24 1593.76 822.27 1595.10 822.30 1596.44C822.33 1597.78 822.36 1599.13 822.39 1600.47C822.42 1601.81 822.45 1603.15 822.48 1604.49C822.51 1605.84 822.54 1607.18 822.57 1608.52C822.60 1609.86 822.62 1611.21 822.65 1612.55C822.68 1613.89 822.71 1615.23 822.74 1616.58C822.77 1617.92 822.80 1619.26 822.82 1620.60C822.85 1621.94 822.88 1623.29 822.91 1624.63C822.94 1625.97 822.96 1627.31 822.99 1628.66C823.02 1630.00 823.05 1631.34 823.07 1632.68C823.10 1634.03 823.13 1635.37 823.16 1636.71C823.18 1638.05 823.21 1639.39 823.24 1640.74C823.26 1642.08 823.29 1643.42 823.32 1644.76C823.34 1646.11 823.37 1647.45 823.39 1648.79C823.42 1650.13 823.45 1651.47 823.47 1652.82C823.50 1654.16 823.52 1655.50 823.55 1656.84C823.58 1658.19 823.60 1659.53 823.63 1660.87C823.65 1662.21 823.68 1663.56 823.70 1664.90C823.73 1666.24 823.75 1667.58 823.78 1668.92C823.80 1670.27 823.83 1671.61 823.85 1672.95C823.88 1674.29 823.90 1675.64 823.93 1676.98C823.95 1678.32 823.97 1679.66 824.00 1681.01C824.02 1682.35 824.05 1683.69 824.07 1685.03C824.09 1686.37 824.12 1687.72 824.14 1689.06C824.16 1690.40 824.19 1691.74 824.21 1693.09C824.23 1694.43 824.26 1695.77 824.28 1697.11C824.30 1698.46 824.32 1699.80 824.35 1701.14C824.37 1702.48 824.39 1703.82 824.41 1705.17C824.44 1706.51 824.46 1707.85 824.48 1709.19C824.50 1710.54 824.53 1711.88 824.55 1713.22C824.57 1714.56 824.59 1715.91 824.61 1717.25C824.63 1718.59 824.66 1719.93 824.68 1721.27C824.70 1722.62 824.72 1723.96 824.74 1725.30C824.76 1726.64 824.78 1727.99 824.80 1729.33C824.82 1730.67 824.84 1732.01 824.86 1733.35C824.88 1734.70 824.90 1736.04 824.92 1737.38C824.94 1738.72 824.96 1740.07 824.98 1741.41C825.00 1742.75 825.02 1744.09 825.04 1745.44C825.06 1746.78 825.08 1748.12 825.10 1749.46C825.12 1750.80 825.14 1752.15 825.16 1753.49C825.18 1754.83 825.20 1756.17 825.22 1757.52C825.24 1758.86 825.25 1760.20 825.27 1761.54C825.29 1762.89 825.31 1764.23 825.33 1765.57C825.35 1766.91 825.36 1768.25 825.38 1769.60C825.40 1770.94 825.42 1772.28 825.44 1773.62C825.45 1774.97 825.47 1776.31 825.49 1777.65C825.50 1778.99 825.52 1780.34 825.54 1781.68C825.56 1783.02 825.57 1784.36 825.59 1785.70C825.61 1787.05 825.62 1788.39 825.64 1789.73C825.66 1791.07 825.67 1792.42 825.69 1793.76C825.71 1795.10 825.72 1796.44 825.74 1797.78C825.75 1799.13 825.77 1800.47 825.79 1801.81C825.80 1803.15 825.82 1804.50 825.83 1805.84C825.85 1807.18 825.86 1808.52 825.88 1809.87C825.89 1811.21 825.91 1812.55 825.92 1813.89C825.94 1815.23 825.95 1816.58 825.97 1817.92C825.98 1819.26 826.00 1820.60 826.01 1821.95C826.03 1823.29 826.04 1824.63 826.05 1825.97C826.07 1827.32 826.08 1828.66 826.10 1830.00C826.36 1828.66 826.60 1827.33 826.88 1825.99C827.15 1824.65 827.46 1823.32 827.75 1821.98C828.04 1820.64 828.33 1819.31 828.63 1817.97C828.92 1816.63 829.21 1815.30 829.50 1813.96C829.79 1812.62 830.08 1811.29 830.37 1809.95C830.66 1808.61 830.94 1807.28 831.23 1805.94C831.52 1804.60 831.81 1803.27 832.10 1801.93C832.39 1800.59 832.68 1799.26 832.97 1797.92C833.26 1796.58 833.55 1795.25 833.83 1793.91C834.12 1792.57 834.41 1791.24 834.70 1789.90C834.99 1788.56 835.28 1787.23 835.57 1785.89C835.86 1784.55 836.14 1783.22 836.43 1781.88C836.72 1780.54 837.01 1779.21 837.30 1777.87C837.59 1776.53 837.88 1775.20 838.17 1773.86C838.46 1772.52 838.75 1771.19 839.04 1769.85C839.33 1768.51 839.62 1767.18 839.91 1765.84C840.20 1764.50 840.49 1763.16 840.78 1761.83C841.07 1760.49 841.37 1759.15 841.66 1757.82C841.95 1756.48 842.24 1755.14 842.53 1753.81C842.83 1752.47 843.12 1751.13 843.41 1749.80C843.71 1748.46 844.00 1747.12 844.30 1745.79C844.59 1744.45 844.89 1743.11 845.18 1741.78C845.48 1740.44 845.78 1739.10 846.07 1737.77C846.37 1736.43 846.67 1735.09 846.97 1733.76C847.27 1732.42 847.57 1731.08 847.87 1729.75C848.17 1728.41 848.47 1727.07 848.77 1725.74C849.07 1724.40 849.37 1723.06 849.67 1721.73C849.98 1720.39 850.28 1719.05 850.59 1717.72C850.89 1716.38 851.20 1715.04 851.50 1713.71C851.81 1712.37 852.12 1711.03 852.43 1709.70C852.73 1708.36 853.04 1707.02 853.35 1705.69C853.67 1704.35 853.98 1703.01 854.29 1701.68C854.60 1700.34 854.92 1699.00 855.23 1697.67C855.54 1696.33 855.86 1694.99 856.18 1693.66C856.49 1692.32 856.81 1690.98 857.13 1689.65C857.45 1688.31 857.77 1686.97 858.09 1685.64C858.41 1684.30 858.74 1682.96 859.06 1681.63C859.39 1680.29 859.71 1678.95 860.04 1677.62C860.37 1676.28 860.69 1674.94 861.02 1673.61C861.35 1672.27 861.68 1670.93 862.02 1669.60C862.35 1668.26 862.68 1666.92 863.02 1665.59C863.35 1664.25 863.69 1662.91 864.03 1661.58C864.37 1660.24 864.71 1658.90 865.05 1657.57C865.39 1656.23 865.73 1654.89 866.08 1653.56C866.42 1652.22 866.77 1650.88 867.12 1649.55C867.47 1648.21 867.82 1646.87 868.17 1645.54C868.52 1644.20 868.87 1642.86 869.23 1641.53C869.58 1640.19 869.94 1638.85 870.30 1637.52C870.66 1636.18 871.02 1634.84 871.38 1633.51C871.74 1632.17 872.10 1630.83 872.47 1629.49C872.84 1628.16 873.20 1626.82 873.57 1625.48C873.94 1624.15 874.32 1622.81 874.69 1621.47C875.06 1620.14 875.44 1618.80 875.82 1617.46C876.19 1616.13 876.57 1614.79 876.96 1613.45C877.34 1612.12 877.72 1610.78 878.11 1609.44C878.50 1608.11 878.88 1606.77 879.27 1605.43C879.66 1604.10 880.06 1602.76 880.45 1601.42C880.85 1600.09 881.24 1598.75 881.64 1597.41C882.04 1596.08 882.45 1594.74 882.85 1593.40C883.25 1592.07 883.66 1590.73 884.07 1589.39C884.48 1588.06 884.89 1586.72 885.30 1585.38C885.72 1584.05 886.13 1582.71 886.55 1581.37C886.97 1580.04 887.39 1578.70 887.81 1577.36C888.24 1576.03 888.66 1574.69 889.09 1573.35C889.52 1572.02 889.95 1570.68 890.39 1569.34C890.82 1568.01 891.26 1566.67 891.70 1565.33C892.13 1564.00 892.58 1562.66 893.02 1561.32C893.47 1559.99 893.91 1558.65 894.36 1557.31C894.81 1555.98 895.27 1554.64 895.72 1553.30C896.18 1551.97 896.63 1550.63 897.10 1549.29C897.56 1547.96 898.02 1546.62 898.49 1545.28C898.95 1543.95 899.42 1542.61 899.90 1541.27C900.37 1539.94 900.85 1538.60 901.32 1537.26C901.80 1535.93 902.28 1534.59 902.77 1533.25C903.25 1531.92 903.74 1530.58 904.23 1529.24C904.72 1527.91 905.22 1526.57 905.71 1525.23C906.21 1523.90 906.71 1522.56 907.22 1521.22C907.72 1519.88 908.23 1518.55 908.73 1517.21C909.24 1515.87 909.76 1514.54 910.27 1513.20C910.79 1511.86 911.31 1510.53 911.83 1509.19C912.36 1507.85 912.88 1506.52 913.41 1505.18C913.94 1503.84 914.47 1502.51 915.01 1501.17C915.55 1499.83 916.09 1498.50 916.63 1497.16C917.17 1495.82 917.72 1494.49 918.27 1493.15C918.82 1491.81 919.37 1490.48 919.93 1489.14C920.49 1487.80 921.05 1486.47 921.61 1485.13C922.18 1483.79 922.75 1482.46 923.32 1481.12C923.89 1479.78 924.47 1478.45 925.04 1477.11C925.62 1475.77 926.21 1474.44 926.79 1473.10C927.38 1471.76 927.97 1470.43 928.56 1469.09C929.16 1467.75 929.76 1466.42 930.36 1465.08C930.96 1463.74 931.57 1462.41 932.17 1461.07C932.78 1459.73 933.40 1458.40 934.01 1457.06C934.63 1455.72 935.25 1454.39 935.88 1453.05C936.50 1451.71 937.13 1450.38 937.77 1449.04C938.40 1447.70 939.04 1446.37 939.68 1445.03C940.32 1443.69 940.96 1442.36 941.61 1441.02C942.26 1439.68 942.92 1438.35 943.57 1437.01C944.23 1435.67 944.98 1432.97 945.56 1433.00C946.13 1433.03 946.77 1435.66 947.04 1437.03C947.30 1438.35 947.14 1439.71 947.19 1441.06C947.24 1442.40 947.29 1443.74 947.34 1445.09C947.39 1446.43 947.44 1447.77 947.49 1449.12C947.54 1450.46 947.59 1451.80 947.64 1453.14C947.69 1454.49 947.74 1455.83 947.78 1457.17C947.83 1458.52 947.88 1459.86 947.93 1461.20C947.98 1462.54 948.03 1463.89 948.07 1465.23C948.12 1466.57 948.17 1467.92 948.21 1469.26C948.26 1470.60 948.31 1471.95 948.35 1473.29C948.40 1474.63 948.45 1475.97 948.49 1477.32C948.54 1478.66 948.58 1480.00 948.63 1481.35C948.67 1482.69 948.72 1484.03 948.76 1485.38C948.81 1486.72 948.85 1488.06 948.90 1489.40C948.94 1490.75 948.99 1492.09 949.03 1493.43C949.07 1494.78 949.12 1496.12 949.16 1497.46C949.20 1498.80 949.25 1500.15 949.29 1501.49C949.33 1502.83 949.37 1504.18 949.42 1505.52C949.46 1506.86 949.50 1508.21 949.54 1509.55C949.58 1510.89 949.62 1512.23 949.67 1513.58C949.71 1514.92 949.75 1516.26 949.79 1517.61C949.83 1518.95 949.87 1520.29 949.91 1521.63C949.95 1522.98 949.99 1524.32 950.03 1525.66C950.07 1527.01 950.11 1528.35 950.15 1529.69C950.18 1531.04 950.22 1532.38 950.26 1533.72C950.30 1535.06 950.34 1536.41 950.38 1537.75C950.41 1539.09 950.45 1540.44 950.49 1541.78C950.53 1543.12 950.56 1544.46 950.60 1545.81C950.64 1547.15 950.67 1548.49 950.71 1549.84C950.75 1551.18 950.78 1552.52 950.82 1553.87C950.85 1555.21 950.89 1556.55 950.92 1557.89C950.96 1559.24 950.99 1560.58 951.03 1561.92C951.06 1563.27 951.10 1564.61 951.13 1565.95C951.16 1567.29 951.20 1568.64 951.23 1569.98C951.27 1571.32 951.30 1572.67 951.33 1574.01C951.37 1575.35 951.40 1576.70 951.43 1578.04C951.46 1579.38 951.50 1580.72 951.53 1582.07C951.56 1583.41 951.59 1584.75 951.62 1586.10C951.65 1587.44 951.68 1588.78 951.72 1590.12C951.75 1591.47 951.78 1592.81 951.81 1594.15C951.84 1595.50 951.87 1596.84 951.90 1598.18C951.93 1599.53 951.96 1600.87 951.99 1602.21C952.02 1603.55 952.04 1604.90 952.07 1606.24C952.10 1607.58 952.13 1608.93 952.16 1610.27C952.19 1611.61 952.22 1612.96 952.24 1614.30C952.27 1615.64 952.30 1616.98 952.32 1618.33C952.35 1619.67 952.38 1621.01 952.41 1622.36C952.43 1623.70 952.46 1625.04 952.48 1626.38C952.51 1627.73 952.54 1629.07 952.56 1630.41C952.59 1631.76 952.61 1633.10 952.64 1634.44C952.66 1635.79 952.69 1637.13 952.71 1638.47C952.74 1639.81 952.76 1641.16 952.78 1642.50C952.81 1643.84 952.83 1645.19 952.86 1646.53C952.88 1647.87 952.90 1649.21 952.93 1650.56C952.95 1651.90 952.97 1653.24 952.99 1654.59C953.02 1655.93 953.04 1657.27 953.06 1658.62C953.08 1659.96 953.10 1661.30 953.12 1662.64C953.15 1663.99 953.17 1665.33 953.19 1666.67C953.21 1668.02 953.23 1669.36 953.25 1670.70C953.27 1672.04 953.29 1673.39 953.31 1674.73C953.33 1676.07 953.35 1677.42 953.37 1678.76C953.39 1680.10 953.40 1681.45 953.42 1682.79C953.44 1684.13 953.46 1685.47 953.48 1686.82C953.50 1688.16 953.51 1689.50 953.53 1690.85C953.55 1692.19 953.57 1693.53 953.58 1694.88C953.60 1696.22 953.62 1697.56 953.63 1698.90C953.65 1700.25 953.67 1701.59 953.68 1702.93C953.70 1704.28 953.71 1705.62 953.73 1706.96C953.74 1708.30 953.76 1709.65 953.77 1710.99C953.79 1712.33 953.80 1713.68 953.82 1715.02C953.83 1716.36 953.85 1717.71 953.86 1719.05C953.87 1720.39 953.89 1721.73 953.90 1723.08C953.91 1724.42 953.93 1725.76 953.94 1727.11C953.95 1728.45 953.96 1729.79 953.98 1731.13C953.99 1732.48 954.00 1733.82 954.01 1735.16C954.02 1736.51 954.04 1737.85 954.05 1739.19C954.06 1740.54 954.07 1741.88 954.08 1743.22C954.09 1744.56 954.10 1745.91 954.11 1747.25C954.12 1748.59 954.13 1749.94 954.14 1751.28C954.15 1752.62 954.16 1753.96 954.17 1755.31C954.18 1756.65 954.19 1757.99 954.19 1759.34C954.20 1760.68 954.21 1762.02 954.22 1763.37C954.23 1764.71 954.23 1766.05 954.24 1767.39C954.25 1768.74 954.26 1770.08 954.26 1771.42C954.27 1772.77 954.28 1774.11 954.28 1775.45C954.29 1776.79 954.29 1778.14 954.30 1779.48C954.31 1780.82 954.31 1782.17 954.32 1783.51C954.32 1784.85 954.33 1786.20 954.33 1787.54C954.34 1788.88 954.34 1790.22 954.35 1791.57C954.35 1792.91 954.35 1794.25 954.36 1795.60C954.36 1796.94 954.36 1798.28 954.37 1799.62C954.37 1800.97 954.37 1802.31 954.38 1803.65C954.38 1805.00 954.38 1806.34 954.38 1807.68C954.38 1809.03 954.39 1810.37 954.39 1811.71C954.39 1813.05 954.39 1814.40 954.39 1815.74C954.39 1817.08 954.39 1818.43 954.39 1819.77C954.39 1821.11 954.39 1822.46 954.39 1823.80C954.39 1825.14 954.39 1826.48 954.39 1827.83C954.39 1829.17 954.39 1830.51 954.39 1831.86C954.39 1833.20 954.39 1834.54 954.39 1835.88C954.38 1837.23 954.38 1838.57 954.38 1839.91C954.38 1841.26 954.38 1842.60 954.37 1843.94C954.37 1845.29 954.37 1846.63 954.36 1847.97C954.36 1849.31 953.84 1851.79 954.35 1852.00C954.95 1852.25 957.50 1849.45 958.31 1847.99C959.00 1846.75 958.93 1845.32 959.24 1843.99C959.55 1842.65 959.86 1841.32 960.17 1839.98C960.48 1838.65 960.79 1837.31 961.09 1835.98C961.40 1834.64 961.70 1833.31 962.01 1831.97C962.31 1830.64 962.61 1829.30 962.91 1827.97C963.21 1826.63 963.51 1825.30 963.81 1823.96C964.11 1822.63 964.41 1821.29 964.71 1819.96C965.00 1818.62 965.30 1817.29 965.60 1815.95C965.89 1814.62 966.19 1813.28 966.48 1811.95C966.77 1810.61 967.07 1809.28 967.36 1807.94C967.65 1806.61 967.94 1805.27 968.23 1803.94C968.52 1802.60 968.82 1801.27 969.10 1799.93C969.39 1798.60 969.68 1797.26 969.97 1795.92C970.26 1794.59 970.55 1793.25 970.84 1791.92C971.12 1790.58 971.41 1789.25 971.70 1787.91C971.98 1786.58 972.27 1785.24 972.56 1783.91C972.84 1782.57 973.13 1781.24 973.41 1779.90C973.70 1778.57 973.98 1777.23 974.27 1775.90C974.55 1774.56 974.84 1773.23 975.12 1771.89C975.40 1770.56 975.69 1769.22 975.97 1767.89C976.26 1766.55 976.54 1765.22 976.82 1763.88C977.11 1762.55 977.39 1761.21 977.68 1759.88C977.96 1758.54 978.24 1757.21 978.53 1755.87C978.81 1754.54 979.09 1753.20 979.38 1751.87C979.66 1750.53 979.95 1749.20 980.23 1747.86C980.52 1746.53 980.80 1745.19 981.09 1743.86C981.37 1742.52 981.66 1741.19 981.94 1739.85C982.23 1738.51 982.51 1737.18 982.80 1735.84C983.09 1734.51 983.37 1733.17 983.66 1731.84C983.95 1730.50 984.24 1729.17 984.52 1727.83C984.81 1726.50 985.10 1725.16 985.39 1723.83C985.68 1722.49 985.97 1721.16 986.26 1719.82C986.55 1718.49 986.84 1717.15 987.13 1715.82C987.43 1714.48 987.72 1713.15 988.01 1711.81C988.31 1710.48 988.60 1709.14 988.90 1707.81C989.19 1706.47 989.49 1705.14 989.78 1703.80C990.08 1702.47 990.38 1701.13 990.68 1699.80C990.98 1698.46 991.28 1697.13 991.58 1695.79C991.88 1694.46 992.18 1693.12 992.48 1691.79C992.79 1690.45 993.09 1689.12 993.39 1687.78C993.70 1686.45 994.01 1685.11 994.31 1683.78C994.62 1682.44 994.93 1681.10 995.24 1679.77C995.55 1678.43 995.86 1677.10 996.17 1675.76C996.49 1674.43 996.80 1673.09 997.12 1671.76C997.43 1670.42 997.75 1669.09 998.07 1667.75C998.39 1666.42 998.71 1665.08 999.03 1663.75C999.35 1662.41 999.67 1661.08 1000.00 1659.74C1000.32 1658.41 1000.65 1657.07 1000.97 1655.74C1001.30 1654.40 1001.63 1653.07 1001.96 1651.73C1002.29 1650.40 1002.63 1649.06 1002.96 1647.73C1003.30 1646.39 1003.63 1645.06 1003.97 1643.72C1004.31 1642.39 1004.65 1641.05 1004.99 1639.72C1005.33 1638.38 1005.68 1637.05 1006.02 1635.71C1006.37 1634.38 1006.72 1633.04 1007.07 1631.71C1007.42 1630.37 1007.77 1629.03 1008.12 1627.70C1008.48 1626.36 1008.83 1625.03 1009.19 1623.69C1009.55 1622.36 1009.91 1621.02 1010.27 1619.69C1010.64 1618.35 1011.00 1617.02 1011.37 1615.68C1011.74 1614.35 1012.11 1613.01 1012.48 1611.68C1012.85 1610.34 1013.22 1609.01 1013.60 1607.67C1013.98 1606.34 1014.36 1605.00 1014.74 1603.67C1015.12 1602.33 1015.50 1601.00 1015.89 1599.66C1016.28 1598.33 1016.67 1596.99 1017.06 1595.66C1017.45 1594.32 1017.84 1592.99 1018.24 1591.65C1018.64 1590.32 1019.04 1588.98 1019.44 1587.65C1019.84 1586.31 1020.25 1584.98 1020.66 1583.64C1021.07 1582.31 1021.48 1580.97 1021.89 1579.64C1022.30 1578.30 1022.72 1576.97 1023.14 1575.63C1023.56 1574.29 1023.98 1572.96 1024.41 1571.62C1024.83 1570.29 1025.26 1568.95 1025.69 1567.62C1026.12 1566.28 1026.56 1564.95 1027.00 1563.61C1027.43 1562.28 1027.87 1560.94 1028.32 1559.61C1028.76 1558.27 1029.21 1556.94 1029.66 1555.60C1030.11 1554.27 1030.56 1552.93 1031.02 1551.60C1031.48 1550.26 1031.94 1548.93 1032.40 1547.59C1032.86 1546.26 1033.33 1544.92 1033.80 1543.59C1034.27 1542.25 1034.75 1540.92 1035.22 1539.58C1035.70 1538.25 1036.18 1536.91 1036.66 1535.58C1037.15 1534.24 1037.64 1532.91 1038.13 1531.57C1038.62 1530.24 1039.11 1528.90 1039.61 1527.57C1040.11 1526.23 1040.61 1524.90 1041.12 1523.56C1041.63 1522.22 1042.14 1520.89 1042.65 1519.56C1043.16 1518.22 1043.68 1516.88 1044.20 1515.55C1044.72 1514.21 1045.25 1512.88 1045.78 1511.54C1046.31 1510.21 1046.84 1508.87 1047.38 1507.54C1047.92 1506.20 1048.46 1504.87 1049.00 1503.53C1049.55 1502.20 1050.10 1500.86 1050.65 1499.53C1051.20 1498.19 1051.76 1496.86 1052.32 1495.52C1052.88 1494.19 1053.45 1492.85 1054.02 1491.52C1054.59 1490.18 1055.16 1488.85 1055.74 1487.51C1056.32 1486.18 1056.90 1484.84 1057.49 1483.51C1058.08 1482.17 1058.67 1480.84 1059.27 1479.50C1059.86 1478.17 1060.46 1476.83 1061.07 1475.50C1061.67 1474.16 1062.28 1472.83 1062.90 1471.49C1063.51 1470.16 1064.13 1468.82 1064.75 1467.49C1065.38 1466.15 1066.00 1464.81 1066.64 1463.48C1067.27 1462.14 1067.91 1460.81 1068.55 1459.48C1069.19 1458.14 1069.84 1456.80 1070.49 1455.47C1071.14 1454.13 1071.80 1452.80 1072.46 1451.46C1073.12 1450.13 1073.79 1448.79 1074.46 1447.46C1075.13 1446.12 1075.80 1444.79 1076.48 1443.45C1077.17 1442.12 1077.85 1440.78 1078.54 1439.45C1079.23 1438.11 1079.93 1436.78 1080.63 1435.44C1081.33 1434.11 1082.04 1432.77 1082.75 1431.44C1083.46 1430.10 1084.18 1428.77 1084.90 1427.43C1085.62 1426.10 1086.35 1424.76 1087.08 1423.43C1087.82 1422.09 1088.56 1420.76 1089.30 1419.42C1090.04 1418.09 1090.79 1416.75 1091.54 1415.42C1092.30 1414.08 1093.06 1412.74 1093.82 1411.41C1094.59 1410.07 1095.36 1408.74 1096.13 1407.41C1096.91 1406.07 1097.71 1403.40 1098.48 1403.40C1099.25 1403.40 1100.38 1406.02 1100.77 1407.41C1101.14 1408.70 1100.85 1410.08 1100.89 1411.41C1100.92 1412.75 1100.96 1414.08 1101.00 1415.42C1101.04 1416.75 1101.08 1418.09 1101.11 1419.42C1101.15 1420.76 1101.19 1422.09 1101.22 1423.43C1101.26 1424.76 1101.30 1426.10 1101.33 1427.43C1101.37 1428.77 1101.41 1430.10 1101.44 1431.44C1101.48 1432.77 1101.51 1434.11 1101.55 1435.44C1101.59 1436.78 1101.62 1438.11 1101.66 1439.45C1101.69 1440.78 1101.73 1442.12 1101.76 1443.45C1101.80 1444.79 1101.83 1446.12 1101.87 1447.46C1101.90 1448.79 1101.94 1450.13 1101.97 1451.46C1102.00 1452.80 1102.04 1454.13 1102.07 1455.47C1102.11 1456.80 1102.14 1458.14 1102.17 1459.48C1102.21 1460.81 1102.24 1462.15 1102.27 1463.48C1102.30 1464.82 1102.34 1466.15 1102.37 1467.49C1102.40 1468.82 1102.44 1470.16 1102.47 1471.49C1102.50 1472.83 1102.53 1474.16 1102.56 1475.50C1102.60 1476.83 1102.63 1478.17 1102.66 1479.50C1102.69 1480.84 1102.72 1482.17 1102.75 1483.51C1102.78 1484.84 1102.81 1486.18 1102.84 1487.51C1102.87 1488.85 1102.91 1490.18 1102.94 1491.52C1102.97 1492.85 1103.00 1494.19 1103.03 1495.52C1103.06 1496.86 1103.09 1498.19 1103.11 1499.53C1103.14 1500.86 1103.17 1502.20 1103.20 1503.53C1103.23 1504.87 1103.26 1506.20 1103.29 1507.54C1103.32 1508.87 1103.35 1510.21 1103.37 1511.54C1103.40 1512.88 1103.43 1514.21 1103.46 1515.55C1103.49 1516.89 1103.51 1518.22 1103.54 1519.56C1103.57 1520.89 1103.60 1522.23 1103.62 1523.56C1103.65 1524.90 1103.68 1526.23 1103.70 1527.57C1103.73 1528.90 1103.76 1530.24 1103.78 1531.57C1103.81 1532.91 1103.84 1534.24 1103.86 1535.58C1103.89 1536.91 1103.91 1538.25 1103.94 1539.58C1103.97 1540.92 1103.99 1542.25 1104.02 1543.59C1104.04 1544.92 1104.07 1546.26 1104.09 1547.59C1104.12 1548.93 1104.14 1550.26 1104.17 1551.60C1104.19 1552.93 1104.21 1554.27 1104.24 1555.60C1104.26 1556.94 1104.29 1558.27 1104.31 1559.61C1104.33 1560.94 1104.36 1562.28 1104.38 1563.61C1104.40 1564.95 1104.43 1566.28 1104.45 1567.62C1104.47 1568.95 1104.49 1570.29 1104.52 1571.62C1104.54 1572.96 1104.56 1574.30 1104.58 1575.63C1104.61 1576.97 1104.63 1578.30 1104.65 1579.64C1104.67 1580.97 1104.69 1582.31 1104.71 1583.64C1104.73 1584.98 1104.76 1586.31 1104.78 1587.65C1104.80 1588.98 1104.82 1590.32 1104.84 1591.65C1104.86 1592.99 1104.88 1594.32 1104.90 1595.66C1104.92 1596.99 1104.94 1598.33 1104.96 1599.66C1104.98 1601.00 1105.00 1602.33 1105.02 1603.67C1105.04 1605.00 1105.06 1606.34 1105.07 1607.67C1105.09 1609.01 1105.11 1610.34 1105.13 1611.68C1105.15 1613.01 1105.17 1614.35 1105.19 1615.68C1105.20 1617.02 1105.22 1618.35 1105.24 1619.69C1105.26 1621.02 1105.28 1622.36 1105.29 1623.69C1105.31 1625.03 1105.33 1626.36 1105.34 1627.70C1105.36 1629.04 1105.38 1630.37 1105.39 1631.71C1105.41 1633.04 1105.43 1634.38 1105.44 1635.71C1105.46 1637.05 1105.48 1638.38 1105.49 1639.72C1105.51 1641.05 1105.52 1642.39 1105.54 1643.72C1105.55 1645.06 1105.57 1646.39 1105.58 1647.73C1105.60 1649.06 1105.61 1650.40 1105.63 1651.73C1105.64 1653.07 1105.66 1654.40 1105.67 1655.74C1105.69 1657.07 1105.70 1658.41 1105.71 1659.74C1105.73 1661.08 1105.74 1662.41 1105.75 1663.75C1105.77 1665.08 1105.78 1666.42 1105.79 1667.75C1105.81 1669.09 1105.82 1670.42 1105.83 1671.76C1105.85 1673.09 1105.86 1674.43 1105.87 1675.76C1105.88 1677.10 1105.90 1678.43 1105.91 1679.77C1105.92 1681.10 1105.93 1682.44 1105.94 1683.78C1105.95 1685.11 1105.97 1686.45 1105.98 1687.78C1105.99 1689.12 1106.00 1690.45 1106.01 1691.79C1106.02 1693.12 1106.03 1694.46 1106.04 1695.79C1106.05 1697.13 1106.06 1698.46 1106.07 1699.80C1106.08 1701.13 1106.09 1702.47 1106.10 1703.80C1106.11 1705.14 1106.12 1706.47 1106.13 1707.81C1106.14 1709.14 1106.15 1710.48 1106.16 1711.81C1106.16 1713.15 1106.17 1714.48 1106.18 1715.82C1106.19 1717.15 1106.20 1718.49 1106.21 1719.82C1106.21 1721.16 1106.22 1722.49 1106.23 1723.83C1106.24 1725.16 1106.24 1726.50 1106.25 1727.83C1106.26 1729.17 1106.27 1730.50 1106.27 1731.84C1106.28 1733.17 1106.29 1734.51 1106.29 1735.84C1106.30 1737.18 1106.30 1738.51 1106.31 1739.85C1106.32 1741.19 1106.32 1742.52 1106.33 1743.86C1106.33 1745.19 1106.34 1746.53 1106.34 1747.86C1106.35 1749.20 1106.36 1750.53 1106.36 1751.87C1106.36 1753.20 1106.37 1754.54 1106.37 1755.87C1106.38 1757.21 1106.38 1758.54 1106.39 1759.88C1106.39 1761.21 1106.39 1762.55 1106.40 1763.88C1106.40 1765.22 1106.41 1766.55 1106.41 1767.89C1106.41 1769.22 1106.42 1770.56 1106.42 1771.89C1106.42 1773.23 1106.42 1774.56 1106.43 1775.90C1106.43 1777.23 1106.43 1778.57 1106.43 1779.90C1106.44 1781.24 1106.44 1782.57 1106.44 1783.91C1106.44 1785.24 1106.44 1786.58 1106.44 1787.91C1106.45 1789.25 1106.45 1790.58 1106.45 1791.92C1106.45 1793.25 1106.45 1794.59 1106.45 1795.92C1106.45 1797.26 1106.45 1798.60 1106.45 1799.93C1106.45 1801.27 1106.45 1802.60 1106.45 1803.94C1106.45 1805.27 1106.45 1806.61 1106.45 1807.94C1106.45 1809.28 1106.45 1810.61 1106.45 1811.95C1106.45 1813.28 1106.45 1814.62 1106.44 1815.95C1106.44 1817.29 1106.44 1818.62 1106.44 1819.96C1106.44 1821.29 1106.44 1822.63 1106.43 1823.96C1106.43 1825.30 1106.43 1826.63 1106.43 1827.97C1106.42 1829.30 1106.42 1830.64 1106.42 1831.97C1106.42 1833.31 1106.41 1834.64 1106.41 1835.98C1106.41 1837.31 1106.40 1838.65 1106.40 1839.98C1106.39 1841.32 1106.39 1842.65 1106.39 1843.99C1106.38 1845.32 1106.38 1846.66 1106.37 1847.99C1106.37 1849.33 1106.36 1850.66 1106.36 1852.00L1122.41 1852.00C1122.59 1850.67 1122.78 1849.33 1122.96 1848.00C1123.14 1846.67 1123.32 1845.33 1123.51 1844.00C1123.69 1842.67 1123.87 1841.33 1124.06 1840.00C1124.24 1838.67 1124.43 1837.33 1124.61 1836.00C1124.80 1834.67 1124.99 1833.33 1125.17 1832.00C1125.36 1830.67 1125.55 1829.33 1125.74 1828.00C1125.92 1826.67 1126.11 1825.33 1126.30 1824.00C1126.49 1822.67 1126.68 1821.33 1126.88 1820.00C1127.07 1818.67 1127.26 1817.33 1127.45 1816.00C1127.65 1814.67 1127.84 1813.33 1128.04 1812.00C1128.23 1810.67 1128.43 1809.33 1128.62 1808.00C1128.82 1806.67 1129.02 1805.33 1129.22 1804.00C1129.42 1802.67 1129.62 1801.33 1129.82 1800.00C1130.02 1798.67 1130.22 1797.33 1130.42 1796.00C1130.63 1794.67 1130.83 1793.33 1131.04 1792.00C1131.24 1790.67 1131.45 1789.33 1131.66 1788.00C1131.86 1786.67 1132.07 1785.33 1132.28 1784.00C1132.49 1782.67 1132.70 1781.33 1132.92 1780.00C1133.13 1778.67 1133.34 1777.33 1133.56 1776.00C1133.77 1774.67 1133.99 1773.33 1134.21 1772.00C1134.42 1770.67 1134.64 1769.33 1134.86 1768.00C1135.08 1766.67 1135.31 1765.33 1135.53 1764.00C1135.75 1762.67 1135.98 1761.33 1136.20 1760.00C1136.43 1758.67 1136.66 1757.33 1136.89 1756.00C1137.12 1754.67 1137.35 1753.33 1137.58 1752.00C1137.81 1750.67 1138.04 1749.33 1138.28 1748.00C1138.52 1746.67 1138.75 1745.33 1138.99 1744.00C1139.23 1742.67 1139.47 1741.33 1139.71 1740.00C1139.95 1738.67 1140.20 1737.33 1140.44 1736.00C1140.69 1734.67 1140.94 1733.33 1141.18 1732.00C1141.43 1730.67 1141.68 1729.33 1141.94 1728.00C1142.19 1726.67 1142.44 1725.33 1142.70 1724.00C1142.96 1722.67 1143.21 1721.33 1143.47 1720.00C1143.73 1718.67 1144.00 1717.33 1144.26 1716.00C1144.52 1714.67 1144.79 1713.33 1145.06 1712.00C1145.32 1710.67 1145.59 1709.33 1145.87 1708.00C1146.14 1706.67 1146.41 1705.33 1146.69 1704.00C1146.96 1702.67 1147.24 1701.33 1147.52 1700.00C1147.80 1698.67 1148.08 1697.33 1148.37 1696.00C1148.65 1694.67 1148.94 1693.33 1149.23 1692.00C1149.52 1690.67 1149.81 1689.33 1150.10 1688.00C1150.39 1686.67 1150.69 1685.33 1150.99 1684.00C1151.29 1682.67 1151.59 1681.33 1151.89 1680.00C1152.19 1678.67 1152.50 1677.33 1152.80 1676.00C1153.11 1674.67 1153.42 1673.33 1153.73 1672.00C1154.04 1670.67 1154.36 1669.33 1154.67 1668.00C1154.99 1666.67 1155.31 1665.33 1155.63 1664.00C1155.95 1662.67 1156.28 1661.33 1156.61 1660.00C1156.93 1658.67 1157.26 1657.33 1157.59 1656.00C1157.93 1654.67 1158.26 1653.33 1158.60 1652.00C1158.94 1650.67 1159.28 1649.33 1159.62 1648.00C1159.96 1646.67 1160.31 1645.33 1160.65 1644.00C1161.00 1642.67 1161.35 1641.33 1161.71 1640.00C1162.06 1638.67 1162.42 1637.33 1162.77 1636.00C1163.13 1634.67 1163.50 1633.33 1163.86 1632.00C1164.23 1630.67 1164.59 1629.33 1164.96 1628.00C1165.33 1626.67 1165.71 1625.33 1166.08 1624.00C1166.46 1622.67 1166.84 1621.33 1167.22 1620.00C1167.60 1618.67 1167.99 1617.33 1168.38 1616.00C1168.77 1614.67 1169.16 1613.33 1169.55 1612.00C1169.95 1610.67 1170.34 1609.33 1170.74 1608.00C1171.15 1606.67 1171.55 1605.33 1171.96 1604.00C1172.36 1602.67 1172.77 1601.33 1173.19 1600.00C1173.60 1598.67 1174.02 1597.33 1174.44 1596.00C1174.86 1594.67 1175.28 1593.33 1175.70 1592.00C1176.13 1590.67 1176.56 1589.33 1176.99 1588.00C1177.43 1586.67 1177.86 1585.33 1178.30 1584.00C1178.74 1582.67 1179.18 1581.33 1179.63 1580.00C1180.08 1578.67 1180.53 1577.33 1180.98 1576.00C1181.43 1574.67 1181.89 1573.33 1182.35 1572.00C1182.81 1570.67 1183.28 1569.33 1183.74 1568.00C1184.21 1566.67 1184.68 1565.33 1185.15 1564.00C1185.63 1562.67 1186.11 1561.33 1186.59 1560.00C1187.07 1558.67 1187.56 1557.33 1188.04 1556.00C1188.53 1554.67 1189.03 1553.33 1189.52 1552.00C1190.02 1550.67 1190.52 1549.33 1191.02 1548.00C1191.53 1546.67 1192.04 1545.33 1192.55 1544.00C1193.06 1542.67 1193.57 1541.33 1194.09 1540.00C1194.61 1538.67 1195.13 1537.33 1195.66 1536.00C1196.19 1534.67 1196.72 1533.33 1197.25 1532.00C1197.79 1530.67 1198.33 1529.33 1198.87 1528.00C1199.41 1526.67 1199.96 1525.33 1200.51 1524.00C1201.06 1522.67 1201.62 1521.33 1202.17 1520.00C1202.73 1518.67 1203.30 1517.33 1203.86 1516.00C1204.43 1514.67 1205.00 1513.33 1205.58 1512.00C1206.15 1510.67 1206.73 1509.33 1207.31 1508.00C1207.90 1506.67 1208.48 1505.33 1209.08 1504.00C1209.67 1502.67 1210.27 1501.33 1210.87 1500.00C1211.47 1498.67 1212.07 1497.33 1212.68 1496.00C1213.29 1494.67 1213.90 1493.33 1214.52 1492.00C1215.14 1490.67 1215.76 1489.33 1216.39 1488.00C1217.01 1486.67 1217.64 1485.33 1218.28 1484.00C1218.92 1482.67 1219.56 1481.33 1220.20 1480.00C1220.84 1478.67 1221.49 1477.33 1222.15 1476.00C1222.80 1474.67 1223.46 1473.33 1224.12 1472.00C1224.78 1470.67 1225.45 1469.33 1226.12 1468.00C1226.79 1466.67 1227.47 1465.33 1228.15 1464.00C1228.83 1462.67 1229.52 1461.33 1230.21 1460.00C1230.90 1458.67 1231.60 1457.33 1232.30 1456.00C1233.00 1454.67 1233.70 1453.33 1234.41 1452.00C1235.12 1450.67 1235.83 1449.33 1236.55 1448.00C1237.27 1446.67 1238.00 1445.33 1238.72 1444.00C1239.45 1442.67 1240.19 1441.33 1240.93 1440.00C1241.67 1438.67 1242.41 1437.33 1243.16 1436.00C1243.91 1434.67 1244.66 1433.33 1245.42 1432.00C1246.18 1430.67 1246.94 1429.33 1247.71 1428.00C1248.48 1426.67 1249.25 1425.33 1250.03 1424.00C1250.81 1422.67 1251.60 1421.33 1252.38 1420.00C1253.17 1418.67 1253.97 1417.33 1254.77 1416.00C1255.57 1414.67 1256.37 1413.33 1257.18 1412.00C1257.99 1410.67 1258.81 1409.33 1259.63 1408.00C1260.45 1406.67 1261.27 1405.33 1262.10 1404.00C1262.94 1402.67 1263.77 1401.33 1264.61 1400.00C1265.46 1398.67 1266.30 1397.33 1267.16 1396.00C1268.01 1394.67 1268.87 1393.33 1269.73 1392.00C1270.59 1390.67 1270.87 1388.98 1272.34 1388.00C1274.54 1386.53 1279.45 1386.67 1283.00 1386.00C1283.33 1388.83 1283.85 1392.19 1284.00 1394.50C1284.11 1396.08 1284.04 1397.18 1284.06 1398.51C1284.08 1399.85 1284.10 1401.19 1284.12 1402.53C1284.14 1403.86 1284.16 1405.20 1284.18 1406.54C1284.20 1407.88 1284.22 1409.21 1284.24 1410.55C1284.26 1411.89 1284.28 1413.23 1284.30 1414.57C1284.32 1415.90 1284.34 1417.24 1284.36 1418.58C1284.37 1419.92 1284.39 1421.25 1284.41 1422.59C1284.43 1423.93 1284.45 1425.27 1284.47 1426.61C1284.49 1427.94 1284.51 1429.28 1284.53 1430.62C1284.55 1431.96 1284.56 1433.29 1284.58 1434.63C1284.60 1435.97 1284.62 1437.31 1284.64 1438.64C1284.66 1439.98 1284.68 1441.32 1284.69 1442.66C1284.71 1444.00 1284.73 1445.33 1284.75 1446.67C1284.77 1448.01 1284.79 1449.35 1284.80 1450.68C1284.82 1452.02 1284.84 1453.36 1284.86 1454.70C1284.88 1456.04 1284.89 1457.37 1284.91 1458.71C1284.93 1460.05 1284.95 1461.39 1284.97 1462.72C1284.98 1464.06 1285.00 1465.40 1285.02 1466.74C1285.04 1468.07 1285.05 1469.41 1285.07 1470.75C1285.09 1472.09 1285.11 1473.43 1285.12 1474.76C1285.14 1476.10 1285.16 1477.44 1285.17 1478.78C1285.19 1480.11 1285.21 1481.45 1285.23 1482.79C1285.24 1484.13 1285.26 1485.46 1285.28 1486.80C1285.29 1488.14 1285.31 1489.48 1285.33 1490.82C1285.34 1492.15 1285.36 1493.49 1285.38 1494.83C1285.39 1496.17 1285.41 1497.50 1285.43 1498.84C1285.44 1500.18 1285.46 1501.52 1285.47 1502.86C1285.49 1504.19 1285.51 1505.53 1285.52 1506.87C1285.54 1508.21 1285.56 1509.54 1285.57 1510.88C1285.59 1512.22 1285.60 1513.56 1285.62 1514.89C1285.63 1516.23 1285.65 1517.57 1285.67 1518.91C1285.68 1520.25 1285.70 1521.58 1285.71 1522.92C1285.73 1524.26 1285.74 1525.60 1285.76 1526.93C1285.77 1528.27 1285.79 1529.61 1285.81 1530.95C1285.82 1532.29 1285.84 1533.62 1285.85 1534.96C1285.87 1536.30 1285.88 1537.64 1285.90 1538.97C1285.91 1540.31 1285.93 1541.65 1285.94 1542.99C1285.96 1544.32 1285.97 1545.66 1285.98 1547.00C1286.00 1548.34 1286.01 1549.68 1286.03 1551.01C1286.04 1552.35 1286.06 1553.69 1286.07 1555.03C1286.09 1556.36 1286.10 1557.70 1286.11 1559.04C1286.13 1560.38 1286.14 1561.71 1286.16 1563.05C1286.17 1564.39 1286.19 1565.73 1286.20 1567.07C1286.21 1568.40 1286.23 1569.74 1286.24 1571.08C1286.25 1572.42 1286.27 1573.75 1286.28 1575.09C1286.30 1576.43 1286.31 1577.77 1286.32 1579.11C1286.34 1580.44 1286.35 1581.78 1286.36 1583.12C1286.38 1584.46 1286.39 1585.79 1286.40 1587.13C1286.42 1588.47 1286.43 1589.81 1286.44 1591.14C1286.46 1592.48 1286.47 1593.82 1286.48 1595.16C1286.49 1596.50 1286.51 1597.83 1286.52 1599.17C1286.53 1600.51 1286.55 1601.85 1286.56 1603.18C1286.57 1604.52 1286.58 1605.86 1286.60 1607.20C1286.61 1608.54 1286.62 1609.87 1286.63 1611.21C1286.64 1612.55 1286.66 1613.89 1286.67 1615.22C1286.68 1616.56 1286.69 1617.90 1286.71 1619.24C1286.72 1620.57 1286.73 1621.91 1286.74 1623.25C1286.75 1624.59 1286.77 1625.93 1286.78 1627.26C1286.79 1628.60 1286.80 1629.94 1286.81 1631.28C1286.82 1632.61 1286.84 1633.95 1286.85 1635.29C1286.86 1636.63 1286.87 1637.96 1286.88 1639.30C1286.89 1640.64 1286.90 1641.98 1286.91 1643.32C1286.93 1644.65 1286.94 1645.99 1286.95 1647.33C1286.96 1648.67 1286.97 1650.00 1286.98 1651.34C1286.99 1652.68 1287.00 1654.02 1287.01 1655.36C1287.02 1656.69 1287.04 1658.03 1287.05 1659.37C1287.06 1660.71 1287.07 1662.04 1287.08 1663.38C1287.09 1664.72 1287.10 1666.06 1287.11 1667.39C1287.12 1668.73 1287.13 1670.07 1287.14 1671.41C1287.15 1672.75 1287.16 1674.08 1287.17 1675.42C1287.18 1676.76 1287.19 1678.10 1287.20 1679.43C1287.21 1680.77 1287.22 1682.11 1287.23 1683.45C1287.24 1684.79 1287.25 1686.12 1287.26 1687.46C1287.27 1688.80 1287.28 1690.14 1287.29 1691.47C1287.30 1692.81 1287.31 1694.15 1287.31 1695.49C1287.32 1696.82 1287.33 1698.16 1287.34 1699.50C1287.35 1700.84 1287.36 1702.18 1287.37 1703.51C1287.38 1704.85 1287.39 1706.19 1287.40 1707.53C1287.40 1708.86 1287.41 1710.20 1287.42 1711.54C1287.43 1712.88 1287.44 1714.21 1287.45 1715.55C1287.46 1716.89 1287.47 1718.23 1287.47 1719.57C1287.48 1720.90 1287.49 1722.24 1287.50 1723.58C1287.51 1724.92 1287.52 1726.25 1287.52 1727.59C1287.53 1728.93 1287.54 1730.27 1287.55 1731.61C1287.56 1732.94 1287.56 1734.28 1287.57 1735.62C1287.58 1736.96 1287.59 1738.29 1287.60 1739.63C1287.60 1740.97 1287.61 1742.31 1287.62 1743.64C1287.63 1744.98 1287.63 1746.32 1287.64 1747.66C1287.65 1749.00 1287.66 1750.33 1287.66 1751.67C1287.67 1753.01 1287.68 1754.35 1287.68 1755.68C1287.69 1757.02 1287.70 1758.36 1287.71 1759.70C1287.71 1761.04 1287.72 1762.37 1287.73 1763.71C1287.73 1765.05 1287.74 1766.39 1287.75 1767.72C1287.75 1769.06 1287.76 1770.40 1287.77 1771.74C1287.77 1773.07 1287.78 1774.41 1287.79 1775.75C1287.79 1777.09 1287.80 1778.43 1287.80 1779.76C1287.81 1781.10 1287.82 1782.44 1287.82 1783.78C1287.83 1785.11 1287.84 1786.45 1287.84 1787.79C1287.85 1789.13 1287.85 1790.46 1287.86 1791.80C1287.86 1793.14 1287.87 1794.48 1287.88 1795.82C1287.88 1797.15 1287.89 1798.49 1287.89 1799.83C1287.90 1801.17 1287.90 1802.50 1287.91 1803.84C1287.91 1805.18 1287.92 1806.52 1287.93 1807.86C1287.93 1809.19 1287.94 1810.53 1287.94 1811.87C1287.95 1813.21 1287.95 1814.54 1287.96 1815.88C1287.96 1817.22 1287.97 1818.56 1287.97 1819.89C1287.98 1821.23 1287.98 1822.57 1287.98 1823.91C1287.99 1825.25 1287.99 1826.58 1288.00 1827.92C1288.00 1829.26 1288.01 1830.60 1288.01 1831.93C1288.02 1833.27 1288.02 1834.61 1288.03 1835.95C1288.03 1837.29 1288.03 1838.62 1288.04 1839.96C1288.04 1841.30 1288.05 1842.64 1288.05 1843.97C1288.05 1845.31 1288.06 1846.65 1288.06 1847.99C1288.07 1849.32 1288.07 1850.66 1288.07 1852.00L1318.06 1852.00C1318.27 1850.67 1318.47 1849.33 1318.68 1848.00C1318.88 1846.67 1319.09 1845.33 1319.30 1844.00C1319.51 1842.67 1319.72 1841.33 1319.93 1840.00C1320.14 1838.67 1320.35 1837.33 1320.57 1836.00C1320.78 1834.67 1320.99 1833.33 1321.21 1832.00C1321.42 1830.67 1321.64 1829.33 1321.85 1828.00C1322.07 1826.67 1322.29 1825.33 1322.51 1824.00C1322.73 1822.67 1322.95 1821.33 1323.17 1820.00C1323.39 1818.67 1323.61 1817.33 1323.83 1816.00C1324.06 1814.67 1324.28 1813.33 1324.51 1812.00C1324.73 1810.67 1324.96 1809.33 1325.19 1808.00C1325.42 1806.67 1325.65 1805.33 1325.88 1804.00C1326.11 1802.67 1326.34 1801.33 1326.57 1800.00C1326.80 1798.67 1327.04 1797.33 1327.27 1796.00C1327.51 1794.67 1327.75 1793.33 1327.98 1792.00C1328.22 1790.67 1328.46 1789.33 1328.70 1788.00C1328.94 1786.67 1329.18 1785.33 1329.43 1784.00C1329.67 1782.67 1329.91 1781.33 1330.16 1780.00C1330.40 1778.67 1330.65 1777.33 1330.90 1776.00C1331.15 1774.67 1331.40 1773.33 1331.65 1772.00C1331.90 1770.67 1332.15 1769.33 1332.41 1768.00C1332.66 1766.67 1332.92 1765.33 1333.17 1764.00C1333.43 1762.67 1333.69 1761.33 1333.95 1760.00C1334.21 1758.67 1334.47 1757.33 1334.73 1756.00C1335.00 1754.67 1335.26 1753.33 1335.53 1752.00C1335.79 1750.67 1336.06 1749.33 1336.33 1748.00C1336.60 1746.67 1336.87 1745.33 1337.14 1744.00C1337.41 1742.67 1337.68 1741.33 1337.96 1740.00C1338.23 1738.67 1338.51 1737.33 1338.79 1736.00C1339.07 1734.67 1339.35 1733.33 1339.63 1732.00C1339.91 1730.67 1340.19 1729.33 1340.48 1728.00C1340.76 1726.67 1341.05 1725.33 1341.34 1724.00C1341.63 1722.67 1341.92 1721.33 1342.21 1720.00C1342.50 1718.67 1342.79 1717.33 1343.09 1716.00C1343.38 1714.67 1343.68 1713.33 1343.98 1712.00C1344.28 1710.67 1344.58 1709.33 1344.88 1708.00C1345.18 1706.67 1345.49 1705.33 1345.79 1704.00C1346.10 1702.67 1346.41 1701.33 1346.72 1700.00C1347.02 1698.67 1347.34 1697.33 1347.65 1696.00C1347.96 1694.67 1348.28 1693.33 1348.59 1692.00C1348.91 1690.67 1349.23 1689.33 1349.55 1688.00C1349.87 1686.67 1350.19 1685.33 1350.52 1684.00C1350.84 1682.67 1351.17 1681.33 1351.50 1680.00C1351.83 1678.67 1352.16 1677.33 1352.49 1676.00C1352.82 1674.67 1353.15 1673.33 1353.49 1672.00C1353.83 1670.67 1354.17 1669.33 1354.51 1668.00C1354.85 1666.67 1355.19 1665.33 1355.53 1664.00C1355.88 1662.67 1356.22 1661.33 1356.57 1660.00C1356.92 1658.67 1357.27 1657.33 1357.62 1656.00C1357.98 1654.67 1358.33 1653.33 1358.69 1652.00C1359.05 1650.67 1359.40 1649.33 1359.77 1648.00C1360.13 1646.67 1360.49 1645.33 1360.86 1644.00C1361.22 1642.67 1361.59 1641.33 1361.96 1640.00C1362.33 1638.67 1362.70 1637.33 1363.08 1636.00C1363.45 1634.67 1363.83 1633.33 1364.21 1632.00C1364.58 1630.67 1364.97 1629.33 1365.35 1628.00C1365.73 1626.67 1366.12 1625.33 1366.51 1624.00C1366.89 1622.67 1367.28 1621.33 1367.68 1620.00C1368.07 1618.67 1368.46 1617.33 1368.86 1616.00C1369.26 1614.67 1369.66 1613.33 1370.06 1612.00C1370.46 1610.67 1370.87 1609.33 1371.27 1608.00C1371.68 1606.67 1372.09 1605.33 1372.50 1604.00C1372.91 1602.67 1373.33 1601.33 1373.74 1600.00C1374.16 1598.67 1374.58 1597.33 1375.00 1596.00C1375.42 1594.67 1375.84 1593.33 1376.27 1592.00C1376.70 1590.67 1377.12 1589.33 1377.56 1588.00C1377.99 1586.67 1378.42 1585.33 1378.86 1584.00C1379.29 1582.67 1379.73 1581.33 1380.17 1580.00" fill="none" stroke="#0000ff" stroke-width="3.9" stroke-linejoin="round" stroke-linecap="butt" clip-path="url(#clipc)"/>
<path d="M222.00 2177.20L511.20 2177.20C511.47 2174.47 511.68 2172.73 512.00 2169.00C512.67 2161.05 513.80 2144.07 514.70 2131.60C515.60 2132.80 516.70 2133.48 517.40 2135.20C518.64 2138.27 518.60 2144.67 519.20 2149.40C520.07 2147.03 520.13 2142.78 521.80 2142.30C524.12 2141.63 529.32 2148.11 533.40 2151.20C537.91 2154.62 543.29 2159.92 547.70 2161.90C550.85 2163.31 553.18 2163.45 556.60 2163.70C561.14 2164.03 569.06 2161.67 572.60 2162.80C574.70 2163.47 575.60 2166.63 577.00 2166.30C579.27 2165.77 581.24 2157.07 583.30 2153.00C585.09 2149.46 586.39 2145.71 588.60 2143.20C590.50 2141.04 593.01 2138.52 595.30 2138.40C597.55 2138.28 600.92 2141.00 602.20 2142.30C602.92 2143.03 603.00 2143.77 603.40 2144.50L602.60 2182.30L604.60 2186.00L606.70 2299.10C607.43 2289.47 608.05 2280.55 608.90 2270.20C609.88 2258.19 611.14 2243.77 612.30 2231.30C613.38 2219.74 614.55 2209.55 615.60 2197.90C616.75 2185.15 617.80 2171.17 618.90 2157.80C620.40 2158.57 621.54 2159.26 623.40 2160.10C626.26 2161.39 630.55 2163.75 634.50 2164.50C638.69 2165.30 644.92 2163.27 647.90 2164.50C649.81 2165.29 650.46 2168.47 651.80 2168.40C653.41 2168.32 655.28 2164.92 656.80 2162.30C658.93 2158.62 660.23 2151.96 662.30 2147.80C664.01 2144.38 666.00 2140.39 667.90 2138.90C668.99 2138.04 669.99 2137.67 671.20 2137.80C672.86 2137.98 674.83 2139.75 676.80 2141.10C679.24 2142.78 682.09 2146.13 684.60 2147.30C686.48 2148.17 687.94 2148.41 690.10 2148.40C693.18 2148.39 698.22 2146.64 701.30 2146.10C703.45 2145.72 704.97 2145.57 706.80 2145.30L707.60 2146.70L707.20 2185.70L710.20 2175.60L711.30 2301.40C712.03 2292.87 712.71 2285.51 713.50 2275.80C714.54 2263.01 715.75 2245.64 716.90 2231.30C717.98 2217.87 719.02 2204.44 720.20 2192.30C721.24 2181.64 722.40 2172.30 723.50 2162.30C725.37 2163.40 727.06 2164.55 729.10 2165.60C731.41 2166.79 734.57 2167.30 736.70 2169.00C738.90 2170.76 740.28 2176.18 742.00 2176.10C743.86 2176.01 745.82 2170.88 747.40 2167.20C749.60 2162.08 750.37 2153.35 752.70 2147.70C754.67 2142.93 757.00 2135.92 759.80 2135.20C761.95 2134.65 764.74 2137.70 767.00 2139.60C769.55 2141.75 771.45 2146.10 774.10 2147.70C776.28 2149.01 778.61 2149.51 781.20 2149.40C784.42 2149.27 788.46 2146.63 791.90 2145.90C794.97 2145.25 797.32 2145.07 800.80 2145.00C805.73 2144.90 812.73 2145.73 818.70 2146.10L819.60 2147.00L819.30 2195.00L822.20 2180.30L823.60 2320.50C824.70 2302.57 825.35 2284.18 826.90 2266.70C828.39 2249.99 831.08 2233.76 832.60 2217.80C834.05 2202.56 834.80 2187.93 835.90 2173.00C838.33 2174.63 840.97 2176.61 843.20 2177.90C844.96 2178.91 846.87 2178.86 848.10 2180.30C849.72 2182.19 849.69 2189.13 850.90 2189.30C851.93 2189.44 853.54 2186.31 854.60 2183.60C856.62 2178.41 857.23 2166.70 858.70 2159.10C859.99 2152.43 860.81 2145.51 862.80 2140.40C864.33 2136.47 866.60 2133.87 868.50 2130.60L870.50 2131.00C872.80 2133.60 874.84 2135.96 877.40 2138.80C880.54 2142.28 884.26 2149.09 888.00 2150.30C890.85 2151.22 893.82 2149.31 896.90 2148.50C900.33 2147.60 903.63 2145.41 907.60 2145.00C912.35 2144.51 917.71 2146.58 923.60 2146.80C930.80 2147.07 939.67 2146.20 947.70 2145.90L948.20 2147.00L948.20 2203.00L950.70 2186.00L952.10 2354.20C953.40 2334.00 954.38 2313.15 956.00 2293.60C957.52 2275.22 959.60 2257.85 961.40 2240.20C963.17 2222.85 964.93 2205.80 966.70 2188.60C967.80 2188.57 968.78 2188.13 970.00 2188.50C971.93 2189.08 975.31 2190.96 976.70 2193.20C978.24 2195.70 977.70 2199.87 978.20 2203.20C979.47 2199.57 980.83 2196.71 982.00 2192.30C983.71 2185.82 985.26 2176.33 986.50 2167.80C987.84 2158.59 988.03 2145.95 989.60 2138.90C990.54 2134.67 991.30 2130.86 993.00 2129.00C994.10 2127.80 995.63 2126.84 997.00 2127.20C999.27 2127.81 1001.82 2133.48 1004.10 2137.00C1006.57 2140.83 1008.59 2146.93 1011.20 2149.40C1012.90 2151.00 1014.60 2152.17 1016.60 2152.10C1019.22 2152.00 1022.45 2148.15 1025.50 2146.80C1028.39 2145.52 1031.17 2144.23 1034.40 2144.10C1038.17 2143.95 1042.27 2146.43 1046.80 2146.80C1052.17 2147.24 1057.64 2146.09 1064.60 2145.90C1074.47 2145.64 1088.47 2145.83 1100.40 2145.80L1100.90 2147.10L1100.90 2218.00L1103.00 2199.00L1104.70 2396.90C1106.17 2374.33 1107.43 2351.29 1109.10 2329.20C1110.71 2307.99 1112.49 2287.73 1114.50 2266.90C1116.52 2245.90 1118.97 2224.77 1121.20 2203.70C1123.97 2206.47 1127.68 2208.88 1129.50 2212.00C1131.16 2214.84 1131.13 2221.36 1132.10 2221.40C1133.03 2221.44 1134.36 2216.56 1135.20 2213.00C1136.56 2207.23 1136.82 2197.24 1137.80 2189.70C1138.73 2182.56 1139.89 2176.03 1140.90 2168.90C1141.96 2161.36 1142.84 2152.57 1144.00 2145.60C1144.95 2139.86 1145.72 2134.44 1147.10 2130.00C1148.19 2126.50 1149.44 2120.99 1151.00 2120.90C1152.74 2120.80 1155.21 2127.50 1157.20 2131.60C1159.68 2136.71 1161.56 2145.62 1164.30 2149.40C1165.96 2151.69 1167.70 2153.86 1169.70 2153.90C1172.11 2153.95 1174.79 2149.45 1177.80 2147.70C1181.01 2145.84 1184.63 2143.49 1188.50 2143.20C1192.85 2142.87 1197.55 2146.40 1202.70 2146.80C1208.67 2147.27 1213.97 2145.33 1222.30 2145.00C1236.87 2144.43 1262.43 2145.53 1282.50 2145.80L1283.90 2146.30L1284.40 2227.80L1286.80 2208.80L1287.30 2433.40C1288.77 2416.47 1290.16 2400.40 1291.70 2382.60C1293.41 2362.89 1295.17 2339.95 1297.10 2320.30C1298.83 2302.63 1301.19 2285.65 1302.60 2270.00C1303.83 2256.35 1304.40 2244.40 1305.30 2231.60C1306.57 2232.50 1307.75 2233.36 1309.10 2234.30C1310.62 2235.35 1312.83 2235.81 1314.00 2237.60C1315.68 2240.17 1315.47 2245.60 1316.20 2249.60C1317.10 2246.87 1318.21 2244.52 1318.90 2241.40C1319.77 2237.47 1320.00 2232.87 1320.50 2227.80C1321.13 2221.41 1321.57 2213.34 1322.20 2206.10C1322.83 2198.84 1323.58 2191.56 1324.30 2184.30C1325.02 2177.06 1325.71 2169.31 1326.50 2162.60C1327.19 2156.77 1327.97 2151.73 1328.70 2146.30C1329.43 2140.87 1330.01 2134.94 1330.90 2130.00C1331.65 2125.82 1332.33 2121.42 1333.50 2118.50C1334.29 2116.51 1335.29 2113.73 1336.30 2113.80C1337.89 2113.91 1339.91 2121.84 1341.60 2126.30C1343.49 2131.27 1344.88 2137.19 1347.00 2142.30C1349.06 2147.27 1351.12 2155.95 1354.10 2156.60C1356.63 2157.15 1360.18 2151.59 1363.00 2149.40C1365.48 2147.47 1367.54 2145.28 1370.10 2144.10C1372.55 2142.97 1375.37 2142.90 1378.00 2142.30" fill="none" stroke="#0000ff" stroke-width="3.9" stroke-linejoin="round" stroke-linecap="butt" clip-path="url(#clipd)"/>
<g opacity="0.999"><text font-size="100" fill="#222222" transform="translate(264.32,76.87) scale(0.5529,0.6162)" xml:space="preserve">10</text>
<text font-size="100" fill="#222222" transform="translate(318.97,46.40) scale(0.4170,0.4955)" xml:space="preserve">4</text>
<text font-size="100" fill="#222222" transform="translate(271.64,1380.63) scale(0.6069,0.6368)" xml:space="preserve">10</text>
<text font-size="100" fill="#222222" transform="translate(331.24,1349.90) scale(0.4600,0.5030)" xml:space="preserve">5</text>
<text font-size="100" fill="#222222" transform="translate(274.29,2061.79) scale(0.6345,0.6544)" xml:space="preserve">10</text>
<text font-size="100" fill="#222222" transform="translate(336.62,2030.46) scale(0.4915,0.5394)" xml:space="preserve">4</text>
<text font-size="100" fill="#222222" transform="translate(767.83,659.07) scale(0.6175,0.6822)" xml:space="preserve">(a)</text>
<text font-size="100" fill="#222222" transform="translate(756.34,1298.58) scale(0.6889,0.6678)" xml:space="preserve">(b)</text>
<text font-size="100" fill="#222222" transform="translate(761.27,1977.35) scale(0.6816,0.6833)" xml:space="preserve">(c)</text>
<text font-size="100" fill="#222222" transform="translate(767.44,2618.23) scale(0.7139,0.7178)" xml:space="preserve">(d)</text>
<text font-size="100" fill="#222222" transform="translate(679.77,2699.23) scale(0.7127,0.7178)" xml:space="preserve">Time (s)</text>
<text font-size="100" fill="#222222" transform="translate(160.83,459.53) rotate(-90) scale(0.6760,0.6178)" xml:space="preserve">Power (W)</text>
<text font-size="100" fill="#222222" transform="translate(60.92,1092.49) rotate(-90) scale(0.6857,0.6944)" xml:space="preserve">Voltage (V)</text>
<text font-size="100" fill="#222222" transform="translate(136.74,1772.48) rotate(-90) scale(0.6935,0.6933)" xml:space="preserve">Power (W)</text>
<text font-size="100" fill="#222222" transform="translate(133.19,2438.05) rotate(-90) scale(0.7159,0.7244)" xml:space="preserve">Power (W)</text>
<text font-size="100" fill="#000000" font-weight="bold" transform="translate(240.86,137.20) scale(0.6426,0.6656)" xml:space="preserve">At 2s, the system</text>
<text font-size="100" fill="#000000" font-weight="bold" transform="translate(231.86,201.30) scale(0.6438,0.6656)" xml:space="preserve">becomes unstable</text>
<text font-size="100" fill="#000000" font-weight="bold" transform="translate(259.56,265.50) scale(0.6480,0.6656)" xml:space="preserve">after the</text>
<text font-size="100" fill="#000000" font-weight="bold" font-style="italic" transform="translate(509.40,265.50) scale(0.6839,0.6656)" xml:space="preserve">P</text>
<text font-size="100" fill="#000000" font-weight="bold" font-style="italic" transform="translate(549.34,274.50) scale(0.4288,0.4160)" xml:space="preserve">load</text>
<text font-size="100" fill="#000000" font-weight="bold" transform="translate(640.34,265.50) scale(0.6306,0.6656)" xml:space="preserve">is</text>
<text font-size="100" fill="#000000" font-weight="bold" transform="translate(239.56,330.20) scale(0.6471,0.6656)" xml:space="preserve">stepped to 12kW</text>
<text font-size="100" fill="#000000" font-weight="bold" transform="translate(242.35,751.20) scale(0.6460,0.6656)" xml:space="preserve">At 2s,  the</text>
<text font-size="100" fill="#000000" font-style="italic" transform="translate(536.82,752.30) scale(0.6758,0.6656)" xml:space="preserve">V</text>
<text font-size="100" fill="#000000" font-weight="bold" transform="translate(577.49,760.10) scale(0.4266,0.4160)" xml:space="preserve">dc</text>
<text font-size="100" fill="#000000" font-weight="bold" transform="translate(653.16,751.20) scale(0.6417,0.6656)" xml:space="preserve">fluctuates violently</text>
<text font-size="100" fill="#000000" font-weight="bold" transform="translate(256.65,1683.00) scale(0.6481,0.6656)" xml:space="preserve">At 2s, the</text>
<text font-size="100" fill="#000000" font-weight="bold" transform="translate(259.76,1747.40) scale(0.6351,0.6656)" xml:space="preserve">battery is</text>
<text font-size="100" fill="#000000" font-weight="bold" transform="translate(273.26,1812.80) scale(0.6352,0.6656)" xml:space="preserve">unstable</text>
<text font-size="100" fill="#000000" font-weight="bold" transform="translate(260.85,2354.60) scale(0.6510,0.6656)" xml:space="preserve">At 2s, the SC</text>
<text font-size="100" fill="#000000" font-weight="bold" transform="translate(294.71,2420.60) scale(0.6460,0.6656)" xml:space="preserve">is unstable</text>
<text font-size="100" fill="#222222" transform="translate(178.28,540.30) scale(0.5461,0.6350)" xml:space="preserve">0</text>
<text font-size="100" fill="#222222" transform="translate(178.83,433.00) scale(0.5461,0.6350)" xml:space="preserve">2</text>
<text font-size="100" fill="#222222" transform="translate(176.64,325.80) scale(0.5461,0.6350)" xml:space="preserve">4</text>
<text font-size="100" fill="#222222" transform="translate(177.73,218.60) scale(0.5461,0.6350)" xml:space="preserve">6</text>
<text font-size="100" fill="#222222" transform="translate(178.28,112.00) scale(0.5461,0.6350)" xml:space="preserve">8</text>
<text font-size="100" fill="#222222" transform="translate(183.00,600.00) scale(0.5461,0.6350)" xml:space="preserve">1.5</text>
<text font-size="100" fill="#222222" transform="translate(493.20,600.00) scale(0.5461,0.6350)" xml:space="preserve">2</text>
<text font-size="100" fill="#222222" transform="translate(760.52,600.00) scale(0.5461,0.6350)" xml:space="preserve">2.5</text>
<text font-size="100" fill="#222222" transform="translate(1068.80,600.00) scale(0.5461,0.6350)" xml:space="preserve">3</text>
<text font-size="100" fill="#222222" transform="translate(1336.40,600.00) scale(0.5461,0.6350)" xml:space="preserve">3.5</text>
<text font-size="100" fill="#222222" transform="translate(175.12,1153.40) scale(0.6300,0.6300)" xml:space="preserve">0</text>
<text font-size="100" fill="#222222" transform="translate(80.62,1008.00) scale(0.6300,0.6300)" xml:space="preserve">2000</text>
<text font-size="100" fill="#222222" transform="translate(80.62,862.60) scale(0.6300,0.6300)" xml:space="preserve">4000</text>
<text font-size="100" fill="#222222" transform="translate(80.62,717.90) scale(0.6300,0.6300)" xml:space="preserve">6000</text>
<text font-size="100" fill="#222222" transform="translate(180.05,1238.00) scale(0.6300,0.6300)" xml:space="preserve">1.5</text>
<text font-size="100" fill="#222222" transform="translate(493.24,1238.00) scale(0.6300,0.6300)" xml:space="preserve">2</text>
<text font-size="100" fill="#222222" transform="translate(756.98,1238.00) scale(0.6300,0.6300)" xml:space="preserve">2.5</text>
<text font-size="100" fill="#222222" transform="translate(1067.96,1238.00) scale(0.6300,0.6300)" xml:space="preserve">3</text>
<text font-size="100" fill="#222222" transform="translate(1332.01,1238.00) scale(0.6300,0.6300)" xml:space="preserve">3.5</text>
<text font-size="100" fill="#222222" transform="translate(154.33,1830.50) scale(0.6110,0.6500)" xml:space="preserve">-5</text>
<text font-size="100" fill="#222222" transform="translate(174.49,1642.70) scale(0.6110,0.6500)" xml:space="preserve">0</text>
<text font-size="100" fill="#222222" transform="translate(174.49,1454.80) scale(0.6110,0.6500)" xml:space="preserve">5</text>
<text font-size="100" fill="#222222" transform="translate(182.28,1918.00) scale(0.6110,0.6500)" xml:space="preserve">1.5</text>
<text font-size="100" fill="#222222" transform="translate(495.61,1918.00) scale(0.6110,0.6500)" xml:space="preserve">2</text>
<text font-size="100" fill="#222222" transform="translate(760.96,1918.00) scale(0.6110,0.6500)" xml:space="preserve">2.5</text>
<text font-size="100" fill="#222222" transform="translate(1072.14,1918.00) scale(0.6110,0.6500)" xml:space="preserve">3</text>
<text font-size="100" fill="#222222" transform="translate(1337.81,1918.00) scale(0.6110,0.6500)" xml:space="preserve">3.5</text>
<text font-size="100" fill="#222222" transform="translate(151.46,2504.60) scale(0.6517,0.6650)" xml:space="preserve">-6</text>
<text font-size="100" fill="#222222" transform="translate(150.16,2403.30) scale(0.6517,0.6650)" xml:space="preserve">-4</text>
<text font-size="100" fill="#222222" transform="translate(152.77,2302.00) scale(0.6517,0.6650)" xml:space="preserve">-2</text>
<text font-size="100" fill="#222222" transform="translate(173.62,2200.60) scale(0.6517,0.6650)" xml:space="preserve">0</text>
<text font-size="100" fill="#222222" transform="translate(174.27,2099.50) scale(0.6517,0.6650)" xml:space="preserve">2</text>
<text font-size="100" fill="#222222" transform="translate(180.04,2557.30) scale(0.6517,0.6650)" xml:space="preserve">1.5</text>
<text font-size="100" fill="#222222" transform="translate(495.18,2557.30) scale(0.6517,0.6650)" xml:space="preserve">2</text>
<text font-size="100" fill="#222222" transform="translate(759.17,2557.30) scale(0.6517,0.6650)" xml:space="preserve">2.5</text>
<text font-size="100" fill="#222222" transform="translate(1072.03,2557.30) scale(0.6517,0.6650)" xml:space="preserve">3</text>
<text font-size="100" fill="#222222" transform="translate(1336.34,2557.30) scale(0.6517,0.6650)" xml:space="preserve">3.5</text>
<path d="M228.1 48.1L253.0 75.4M253.0 48.1L228.1 75.4" stroke="#222222" stroke-width="2.1" stroke-linecap="round" fill="none"/>
<path d="M231.5 1351.5L258.8 1379.6M258.8 1351.5L231.5 1379.6" stroke="#222222" stroke-width="2.2" stroke-linecap="round" fill="none"/>
<path d="M232.2 2032.1L261.1 2060.8M261.1 2032.1L232.2 2060.8" stroke="#222222" stroke-width="2.3" stroke-linecap="round" fill="none"/>
<path d="M491.7 340.7L550.8 400.3" stroke="#dc0000" stroke-width="7" stroke-linecap="round" fill="none"/>
<path d="M575.6 425.1L528.3 401.5L552.0 377.9Z" fill="#dc0000"/>
<path d="M574.4 782.0L653.2 860.7" stroke="#dc0000" stroke-width="7" stroke-linecap="round" fill="none"/>
<path d="M677.7 885.8L630.8 861.5L654.5 838.3Z" fill="#dc0000"/>
<path d="M523.9 1692.6L637.6 1579.0" stroke="#dc0000" stroke-width="7" stroke-linecap="round" fill="none"/>
<path d="M662.6 1554.5L615.3 1577.8L638.6 1601.2Z" fill="#dc0000"/>
<path d="M454.2 2297.8L554.9 2197.3" stroke="#dc0000" stroke-width="7" stroke-linecap="round" fill="none"/>
<path d="M580.1 2172.0L532.6 2196.3L555.7 2220.0Z" fill="#dc0000"/></g>
</svg></body></html>
